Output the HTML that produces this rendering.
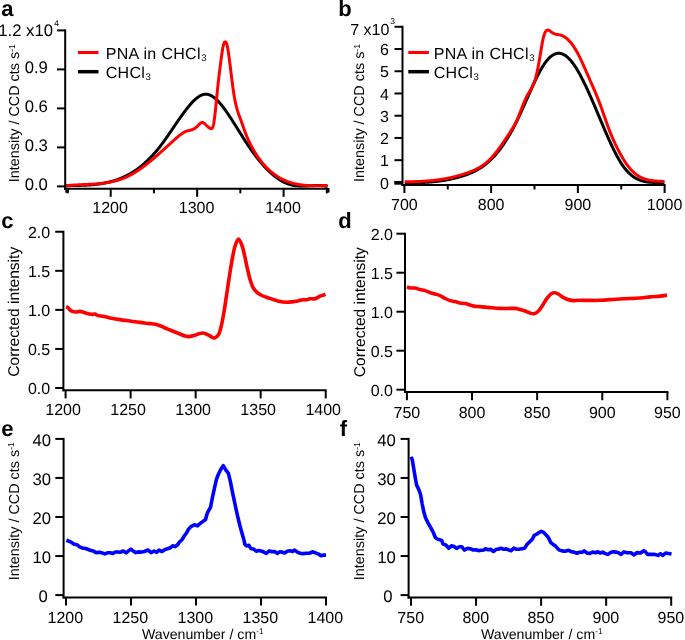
<!DOCTYPE html>
<html><head><meta charset="utf-8"><title>Spectra figure</title>
<style>
html,body{margin:0;padding:0;background:#fff;width:685px;height:640px;overflow:hidden}
svg{display:block;will-change:transform}
text{font-family:"Liberation Sans", sans-serif;fill:#000;text-rendering:geometricPrecision}
</style></head>
<body>
<svg width="685" height="640" viewBox="0 0 685 640">
<rect width="685" height="640" fill="#fff"/>
<g>
<text x="1.3" y="15.8" font-size="22" text-anchor="start" font-weight="bold" >a</text>
<line x1="65.2" y1="29.400000000000006" x2="65.2" y2="189.8" stroke="#000" stroke-width="2"/>
<line x1="57" y1="186.4" x2="65.2" y2="186.4" stroke="#000" stroke-width="2"/>
<text x="47.9" y="190.3" font-size="16.7" text-anchor="end" font-weight="normal" >0.0</text>
<line x1="57" y1="147.4" x2="65.2" y2="147.4" stroke="#000" stroke-width="2"/>
<text x="47.9" y="151.3" font-size="16.7" text-anchor="end" font-weight="normal" >0.3</text>
<line x1="57" y1="108.4" x2="65.2" y2="108.4" stroke="#000" stroke-width="2"/>
<text x="47.9" y="112.3" font-size="16.7" text-anchor="end" font-weight="normal" >0.6</text>
<line x1="57" y1="69.4" x2="65.2" y2="69.4" stroke="#000" stroke-width="2"/>
<text x="47.9" y="73.3" font-size="16.7" text-anchor="end" font-weight="normal" >0.9</text>
<line x1="57" y1="30.400000000000006" x2="65.2" y2="30.400000000000006" stroke="#000" stroke-width="2"/>
<text x="53.0" y="36.00000000000001" font-size="16.7" text-anchor="end" font-weight="normal" >1.2 x10</text>
<text x="54.2" y="26.0" font-size="8.5" text-anchor="start" font-weight="normal" >4</text>
<line x1="64.2" y1="188.8" x2="327.825" y2="188.8" stroke="#000" stroke-width="2"/>
<line x1="110.7" y1="188.8" x2="110.7" y2="196.8" stroke="#000" stroke-width="2"/>
<text x="110.1" y="213.2" font-size="16" text-anchor="middle" font-weight="normal" >1200</text>
<line x1="197.15" y1="188.8" x2="197.15" y2="196.8" stroke="#000" stroke-width="2"/>
<text x="196.55" y="213.2" font-size="16" text-anchor="middle" font-weight="normal" >1300</text>
<line x1="283.6" y1="188.8" x2="283.6" y2="196.8" stroke="#000" stroke-width="2"/>
<text x="283.0" y="213.2" font-size="16" text-anchor="middle" font-weight="normal" >1400</text>
<line x1="67.475" y1="188.8" x2="67.475" y2="193.3" stroke="#000" stroke-width="2"/>
<line x1="153.925" y1="188.8" x2="153.925" y2="193.3" stroke="#000" stroke-width="2"/>
<line x1="240.375" y1="188.8" x2="240.375" y2="193.3" stroke="#000" stroke-width="2"/>
<line x1="326.825" y1="188.8" x2="326.825" y2="193.3" stroke="#000" stroke-width="2"/>
<path d="M66.00,185.72 L66.25,185.72 L66.50,185.71 L66.75,185.70 L67.00,185.70 L67.25,185.69 L67.50,185.69 L67.75,185.68 L68.00,185.68 L68.25,185.67 L68.50,185.66 L68.75,185.66 L69.00,185.65 L69.25,185.65 L69.50,185.64 L69.75,185.64 L70.00,185.63 L70.25,185.63 L70.50,185.62 L70.75,185.62 L71.00,185.61 L71.25,185.61 L71.50,185.60 L71.75,185.60 L72.00,185.59 L72.25,185.59 L72.50,185.58 L72.75,185.58 L73.00,185.57 L73.25,185.57 L73.50,185.56 L73.75,185.56 L74.00,185.55 L74.25,185.55 L74.50,185.54 L74.75,185.54 L75.00,185.53 L75.25,185.53 L75.50,185.52 L75.75,185.52 L76.00,185.51 L76.25,185.51 L76.50,185.50 L76.75,185.50 L77.00,185.49 L77.25,185.48 L77.50,185.48 L77.75,185.47 L78.00,185.47 L78.25,185.46 L78.50,185.45 L78.75,185.45 L79.00,185.44 L79.25,185.43 L79.50,185.42 L79.75,185.42 L80.00,185.41 L80.25,185.40 L80.50,185.39 L80.75,185.39 L81.00,185.38 L81.25,185.37 L81.50,185.36 L81.75,185.35 L82.00,185.34 L82.25,185.34 L82.50,185.33 L82.75,185.32 L83.00,185.31 L83.25,185.30 L83.50,185.29 L83.75,185.28 L84.00,185.27 L84.25,185.25 L84.50,185.24 L84.75,185.23 L85.00,185.22 L85.25,185.21 L85.50,185.20 L85.75,185.18 L86.00,185.17 L86.25,185.16 L86.50,185.14 L86.75,185.13 L87.00,185.12 L87.25,185.10 L87.50,185.09 L87.75,185.07 L88.00,185.06 L88.25,185.04 L88.50,185.03 L88.75,185.01 L89.00,184.99 L89.25,184.98 L89.50,184.96 L89.75,184.94 L90.00,184.92 L90.25,184.91 L90.50,184.89 L90.75,184.87 L91.00,184.85 L91.25,184.83 L91.50,184.81 L91.75,184.79 L92.00,184.77 L92.25,184.74 L92.50,184.72 L92.75,184.70 L93.00,184.68 L93.25,184.65 L93.50,184.63 L93.75,184.61 L94.00,184.58 L94.25,184.56 L94.50,184.53 L94.75,184.51 L95.00,184.48 L95.25,184.45 L95.50,184.42 L95.75,184.40 L96.00,184.37 L96.25,184.34 L96.50,184.31 L96.75,184.28 L97.00,184.25 L97.25,184.22 L97.50,184.19 L97.75,184.16 L98.00,184.12 L98.25,184.09 L98.50,184.06 L98.75,184.02 L99.00,183.99 L99.25,183.95 L99.50,183.92 L99.75,183.88 L100.00,183.85 L100.25,183.81 L100.50,183.77 L100.75,183.73 L101.00,183.69 L101.25,183.65 L101.50,183.61 L101.75,183.57 L102.00,183.53 L102.25,183.49 L102.50,183.45 L102.75,183.40 L103.00,183.36 L103.25,183.31 L103.50,183.27 L103.75,183.22 L104.00,183.18 L104.25,183.13 L104.50,183.08 L104.75,183.03 L105.00,182.98 L105.25,182.93 L105.50,182.88 L105.75,182.83 L106.00,182.78 L106.25,182.73 L106.50,182.67 L106.75,182.62 L107.00,182.56 L107.25,182.51 L107.50,182.45 L107.75,182.39 L108.00,182.34 L108.25,182.28 L108.50,182.22 L108.75,182.16 L109.00,182.10 L109.25,182.04 L109.50,181.98 L109.75,181.91 L110.00,181.85 L110.25,181.78 L110.50,181.72 L110.75,181.65 L111.00,181.59 L111.25,181.52 L111.50,181.45 L111.75,181.38 L112.00,181.31 L112.25,181.24 L112.50,181.17 L112.75,181.09 L113.00,181.02 L113.25,180.95 L113.50,180.87 L113.75,180.80 L114.00,180.72 L114.25,180.64 L114.50,180.56 L114.75,180.48 L115.00,180.40 L115.25,180.32 L115.50,180.24 L115.75,180.16 L116.00,180.07 L116.25,179.99 L116.50,179.90 L116.75,179.82 L117.00,179.73 L117.25,179.64 L117.50,179.55 L117.75,179.46 L118.00,179.37 L118.25,179.28 L118.50,179.18 L118.75,179.09 L119.00,178.99 L119.25,178.90 L119.50,178.80 L119.75,178.70 L120.00,178.60 L120.25,178.50 L120.50,178.40 L120.75,178.30 L121.00,178.20 L121.25,178.09 L121.50,177.99 L121.75,177.88 L122.00,177.78 L122.25,177.67 L122.50,177.56 L122.75,177.45 L123.00,177.34 L123.25,177.23 L123.50,177.11 L123.75,177.00 L124.00,176.88 L124.25,176.77 L124.50,176.65 L124.75,176.53 L125.00,176.41 L125.25,176.29 L125.50,176.17 L125.75,176.05 L126.00,175.92 L126.25,175.80 L126.50,175.67 L126.75,175.54 L127.00,175.41 L127.25,175.29 L127.50,175.15 L127.75,175.02 L128.00,174.89 L128.25,174.76 L128.50,174.62 L128.75,174.48 L129.00,174.35 L129.25,174.21 L129.50,174.07 L129.75,173.93 L130.00,173.78 L130.25,173.64 L130.50,173.50 L130.75,173.35 L131.00,173.20 L131.25,173.05 L131.50,172.90 L131.75,172.75 L132.00,172.60 L132.25,172.45 L132.50,172.29 L132.75,172.14 L133.00,171.98 L133.25,171.82 L133.50,171.66 L133.75,171.50 L134.00,171.34 L134.25,171.18 L134.50,171.01 L134.75,170.85 L135.00,170.68 L135.25,170.51 L135.50,170.34 L135.75,170.17 L136.00,170.00 L136.25,169.83 L136.50,169.65 L136.75,169.47 L137.00,169.30 L137.25,169.12 L137.50,168.94 L137.75,168.76 L138.00,168.57 L138.25,168.39 L138.50,168.20 L138.75,168.02 L139.00,167.83 L139.25,167.64 L139.50,167.45 L139.75,167.25 L140.00,167.06 L140.25,166.86 L140.50,166.67 L140.75,166.47 L141.00,166.27 L141.25,166.07 L141.50,165.87 L141.75,165.66 L142.00,165.46 L142.25,165.25 L142.50,165.04 L142.75,164.83 L143.00,164.62 L143.25,164.41 L143.50,164.20 L143.75,163.98 L144.00,163.76 L144.25,163.55 L144.50,163.33 L144.75,163.10 L145.00,162.88 L145.25,162.66 L145.50,162.43 L145.75,162.20 L146.00,161.98 L146.25,161.75 L146.50,161.51 L146.75,161.28 L147.00,161.05 L147.25,160.81 L147.50,160.57 L147.75,160.33 L148.00,160.09 L148.25,159.85 L148.50,159.60 L148.75,159.36 L149.00,159.11 L149.25,158.86 L149.50,158.61 L149.75,158.36 L150.00,158.10 L150.25,157.85 L150.50,157.59 L150.75,157.33 L151.00,157.07 L151.25,156.81 L151.50,156.55 L151.75,156.28 L152.00,156.02 L152.25,155.75 L152.50,155.48 L152.75,155.21 L153.00,154.93 L153.25,154.66 L153.50,154.38 L153.75,154.10 L154.00,153.82 L154.25,153.54 L154.50,153.26 L154.75,152.97 L155.00,152.69 L155.25,152.40 L155.50,152.11 L155.75,151.82 L156.00,151.52 L156.25,151.23 L156.50,150.93 L156.75,150.63 L157.00,150.33 L157.25,150.03 L157.50,149.73 L157.75,149.42 L158.00,149.11 L158.25,148.80 L158.50,148.49 L158.75,148.18 L159.00,147.87 L159.25,147.55 L159.50,147.23 L159.75,146.91 L160.00,146.59 L160.25,146.27 L160.50,145.94 L160.75,145.61 L161.00,145.29 L161.25,144.95 L161.50,144.62 L161.75,144.29 L162.00,143.95 L162.25,143.62 L162.50,143.28 L162.75,142.94 L163.00,142.60 L163.25,142.26 L163.50,141.91 L163.75,141.57 L164.00,141.22 L164.25,140.87 L164.50,140.52 L164.75,140.17 L165.00,139.82 L165.25,139.47 L165.50,139.12 L165.75,138.76 L166.00,138.41 L166.25,138.05 L166.50,137.69 L166.75,137.33 L167.00,136.98 L167.25,136.62 L167.50,136.25 L167.75,135.89 L168.00,135.53 L168.25,135.17 L168.50,134.80 L168.75,134.44 L169.00,134.07 L169.25,133.71 L169.50,133.34 L169.75,132.98 L170.00,132.61 L170.25,132.24 L170.50,131.87 L170.75,131.51 L171.00,131.14 L171.25,130.77 L171.50,130.40 L171.75,130.03 L172.00,129.66 L172.25,129.29 L172.50,128.92 L172.75,128.55 L173.00,128.18 L173.25,127.81 L173.50,127.44 L173.75,127.07 L174.00,126.70 L174.25,126.34 L174.50,125.97 L174.75,125.60 L175.00,125.23 L175.25,124.86 L175.50,124.49 L175.75,124.12 L176.00,123.76 L176.25,123.39 L176.50,123.02 L176.75,122.66 L177.00,122.29 L177.25,121.92 L177.50,121.56 L177.75,121.20 L178.00,120.83 L178.25,120.47 L178.50,120.11 L178.75,119.75 L179.00,119.39 L179.25,119.03 L179.50,118.67 L179.75,118.31 L180.00,117.95 L180.25,117.60 L180.50,117.24 L180.75,116.89 L181.00,116.54 L181.25,116.18 L181.50,115.83 L181.75,115.48 L182.00,115.14 L182.25,114.79 L182.50,114.44 L182.75,114.10 L183.00,113.75 L183.25,113.41 L183.50,113.07 L183.75,112.73 L184.00,112.40 L184.25,112.06 L184.50,111.73 L184.75,111.39 L185.00,111.06 L185.25,110.73 L185.50,110.40 L185.75,110.08 L186.00,109.75 L186.25,109.43 L186.50,109.11 L186.75,108.79 L187.00,108.48 L187.25,108.16 L187.50,107.85 L187.75,107.54 L188.00,107.23 L188.25,106.92 L188.50,106.61 L188.75,106.31 L189.00,106.01 L189.25,105.71 L189.50,105.42 L189.75,105.12 L190.00,104.83 L190.25,104.54 L190.50,104.26 L190.75,103.97 L191.00,103.69 L191.25,103.41 L191.50,103.14 L191.75,102.86 L192.00,102.59 L192.25,102.32 L192.50,102.06 L192.75,101.80 L193.00,101.54 L193.25,101.29 L193.50,101.04 L193.75,100.79 L194.00,100.54 L194.25,100.30 L194.50,100.06 L194.75,99.83 L195.00,99.60 L195.25,99.37 L195.50,99.15 L195.75,98.93 L196.00,98.72 L196.25,98.51 L196.50,98.30 L196.75,98.10 L197.00,97.90 L197.25,97.71 L197.50,97.52 L197.75,97.33 L198.00,97.15 L198.25,96.98 L198.50,96.81 L198.75,96.64 L199.00,96.48 L199.25,96.33 L199.50,96.17 L199.75,96.03 L200.00,95.89 L200.25,95.75 L200.50,95.62 L200.75,95.49 L201.00,95.37 L201.25,95.26 L201.50,95.15 L201.75,95.05 L202.00,94.95 L202.25,94.86 L202.50,94.77 L202.75,94.69 L203.00,94.61 L203.25,94.55 L203.50,94.48 L203.75,94.43 L204.00,94.38 L204.25,94.33 L204.50,94.29 L204.75,94.26 L205.00,94.24 L205.25,94.22 L205.50,94.21 L205.75,94.20 L206.00,94.20 L206.25,94.21 L206.50,94.23 L206.75,94.25 L207.00,94.28 L207.25,94.31 L207.50,94.35 L207.75,94.40 L208.00,94.45 L208.25,94.51 L208.50,94.58 L208.75,94.65 L209.00,94.73 L209.25,94.81 L209.50,94.90 L209.75,95.00 L210.00,95.10 L210.25,95.21 L210.50,95.32 L210.75,95.44 L211.00,95.57 L211.25,95.70 L211.50,95.83 L211.75,95.97 L212.00,96.12 L212.25,96.27 L212.50,96.43 L212.75,96.59 L213.00,96.76 L213.25,96.93 L213.50,97.11 L213.75,97.29 L214.00,97.48 L214.25,97.67 L214.50,97.87 L214.75,98.07 L215.00,98.27 L215.25,98.49 L215.50,98.70 L215.75,98.92 L216.00,99.15 L216.25,99.37 L216.50,99.61 L216.75,99.84 L217.00,100.09 L217.25,100.33 L217.50,100.58 L217.75,100.83 L218.00,101.09 L218.25,101.35 L218.50,101.62 L218.75,101.89 L219.00,102.16 L219.25,102.44 L219.50,102.72 L219.75,103.00 L220.00,103.29 L220.25,103.58 L220.50,103.87 L220.75,104.17 L221.00,104.47 L221.25,104.78 L221.50,105.08 L221.75,105.39 L222.00,105.71 L222.25,106.02 L222.50,106.34 L222.75,106.66 L223.00,106.99 L223.25,107.32 L223.50,107.65 L223.75,107.98 L224.00,108.31 L224.25,108.65 L224.50,108.99 L224.75,109.33 L225.00,109.68 L225.25,110.03 L225.50,110.38 L225.75,110.73 L226.00,111.08 L226.25,111.44 L226.50,111.79 L226.75,112.15 L227.00,112.52 L227.25,112.88 L227.50,113.24 L227.75,113.61 L228.00,113.98 L228.25,114.35 L228.50,114.72 L228.75,115.09 L229.00,115.47 L229.25,115.84 L229.50,116.22 L229.75,116.60 L230.00,116.98 L230.25,117.36 L230.50,117.74 L230.75,118.12 L231.00,118.51 L231.25,118.89 L231.50,119.27 L231.75,119.66 L232.00,120.05 L232.25,120.44 L232.50,120.83 L232.75,121.22 L233.00,121.61 L233.25,122.00 L233.50,122.39 L233.75,122.78 L234.00,123.17 L234.25,123.57 L234.50,123.96 L234.75,124.36 L235.00,124.75 L235.25,125.15 L235.50,125.54 L235.75,125.94 L236.00,126.34 L236.25,126.73 L236.50,127.13 L236.75,127.53 L237.00,127.93 L237.25,128.32 L237.50,128.72 L237.75,129.12 L238.00,129.52 L238.25,129.92 L238.50,130.32 L238.75,130.72 L239.00,131.11 L239.25,131.51 L239.50,131.91 L239.75,132.31 L240.00,132.71 L240.25,133.11 L240.50,133.50 L240.75,133.90 L241.00,134.30 L241.25,134.70 L241.50,135.09 L241.75,135.49 L242.00,135.88 L242.25,136.28 L242.50,136.67 L242.75,137.07 L243.00,137.46 L243.25,137.85 L243.50,138.25 L243.75,138.64 L244.00,139.03 L244.25,139.42 L244.50,139.81 L244.75,140.20 L245.00,140.59 L245.25,140.97 L245.50,141.36 L245.75,141.75 L246.00,142.13 L246.25,142.51 L246.50,142.90 L246.75,143.28 L247.00,143.66 L247.25,144.04 L247.50,144.42 L247.75,144.79 L248.00,145.17 L248.25,145.54 L248.50,145.92 L248.75,146.29 L249.00,146.66 L249.25,147.03 L249.50,147.40 L249.75,147.76 L250.00,148.13 L250.25,148.49 L250.50,148.86 L250.75,149.22 L251.00,149.57 L251.25,149.93 L251.50,150.29 L251.75,150.64 L252.00,151.00 L252.25,151.35 L252.50,151.70 L252.75,152.05 L253.00,152.39 L253.25,152.74 L253.50,153.08 L253.75,153.43 L254.00,153.77 L254.25,154.11 L254.50,154.44 L254.75,154.78 L255.00,155.11 L255.25,155.45 L255.50,155.78 L255.75,156.11 L256.00,156.44 L256.25,156.76 L256.50,157.09 L256.75,157.41 L257.00,157.73 L257.25,158.05 L257.50,158.37 L257.75,158.69 L258.00,159.00 L258.25,159.32 L258.50,159.63 L258.75,159.94 L259.00,160.25 L259.25,160.56 L259.50,160.86 L259.75,161.17 L260.00,161.47 L260.25,161.77 L260.50,162.07 L260.75,162.37 L261.00,162.66 L261.25,162.95 L261.50,163.25 L261.75,163.54 L262.00,163.83 L262.25,164.11 L262.50,164.40 L262.75,164.68 L263.00,164.97 L263.25,165.25 L263.50,165.52 L263.75,165.80 L264.00,166.08 L264.25,166.35 L264.50,166.62 L264.75,166.89 L265.00,167.16 L265.25,167.43 L265.50,167.69 L265.75,167.96 L266.00,168.22 L266.25,168.48 L266.50,168.74 L266.75,168.99 L267.00,169.25 L267.25,169.50 L267.50,169.75 L267.75,170.00 L268.00,170.25 L268.25,170.49 L268.50,170.73 L268.75,170.98 L269.00,171.22 L269.25,171.45 L269.50,171.69 L269.75,171.93 L270.00,172.16 L270.25,172.39 L270.50,172.62 L270.75,172.85 L271.00,173.07 L271.25,173.30 L271.50,173.52 L271.75,173.74 L272.00,173.96 L272.25,174.17 L272.50,174.39 L272.75,174.60 L273.00,174.81 L273.25,175.02 L273.50,175.23 L273.75,175.43 L274.00,175.63 L274.25,175.84 L274.50,176.04 L274.75,176.23 L275.00,176.43 L275.25,176.62 L275.50,176.81 L275.75,177.00 L276.00,177.19 L276.25,177.38 L276.50,177.56 L276.75,177.74 L277.00,177.93 L277.25,178.10 L277.50,178.28 L277.75,178.45 L278.00,178.63 L278.25,178.80 L278.50,178.97 L278.75,179.13 L279.00,179.30 L279.25,179.46 L279.50,179.62 L279.75,179.78 L280.00,179.94 L280.25,180.09 L280.50,180.24 L280.75,180.40 L281.00,180.54 L281.25,180.69 L281.50,180.84 L281.75,180.98 L282.00,181.12 L282.25,181.26 L282.50,181.40 L282.75,181.53 L283.00,181.66 L283.25,181.79 L283.50,181.92 L283.75,182.05 L284.00,182.17 L284.25,182.30 L284.50,182.42 L284.75,182.54 L285.00,182.65 L285.25,182.77 L285.50,182.88 L285.75,182.99 L286.00,183.10 L286.25,183.20 L286.50,183.31 L286.75,183.41 L287.00,183.51 L287.25,183.60 L287.50,183.70 L287.75,183.79 L288.00,183.88 L288.25,183.97 L288.50,184.06 L288.75,184.15 L289.00,184.23 L289.25,184.31 L289.50,184.39 L289.75,184.46 L290.00,184.54 L290.25,184.61 L290.50,184.68 L290.75,184.75 L291.00,184.81 L291.25,184.88 L291.50,184.94 L291.75,185.00 L292.00,185.06 L292.25,185.11 L292.50,185.17 L292.75,185.22 L293.00,185.27 L293.25,185.32 L293.50,185.36 L293.75,185.41 L294.00,185.45 L294.25,185.49 L294.50,185.53 L294.75,185.57 L295.00,185.61 L295.25,185.64 L295.50,185.67 L295.75,185.71 L296.00,185.74 L296.25,185.76 L296.50,185.79 L296.75,185.82 L297.00,185.84 L297.25,185.86 L297.50,185.89 L297.75,185.91 L298.00,185.92 L298.25,185.94 L298.50,185.96 L298.75,185.97 L299.00,185.99 L299.25,186.00 L299.50,186.01 L299.75,186.02 L300.00,186.03 L300.25,186.04 L300.50,186.04 L300.75,186.05 L301.00,186.06 L301.25,186.06 L301.50,186.06 L301.75,186.07 L302.00,186.07 L302.25,186.07 L302.50,186.07 L302.75,186.07 L303.00,186.06 L303.25,186.06 L303.50,186.06 L303.75,186.05 L304.00,186.05 L304.25,186.04 L304.50,186.04 L304.75,186.03 L305.00,186.02 L305.25,186.02 L305.50,186.01 L305.75,186.00 L306.00,185.99 L306.25,185.98 L306.50,185.97 L306.75,185.96 L307.00,185.95 L307.25,185.94 L307.50,185.93 L307.75,185.91 L308.00,185.90 L308.25,185.89 L308.50,185.88 L308.75,185.87 L309.00,185.85 L309.25,185.84 L309.50,185.83 L309.75,185.81 L310.00,185.80 L310.25,185.79 L310.50,185.78 L310.75,185.76 L311.00,185.75 L311.25,185.74 L311.50,185.73 L311.75,185.71 L312.00,185.70 L312.25,185.69 L312.50,185.68 L312.75,185.67 L313.00,185.65 L313.25,185.64 L313.50,185.63 L313.75,185.62 L314.00,185.61 L314.25,185.60 L314.50,185.60 L314.75,185.59 L315.00,185.58 L315.25,185.57 L315.50,185.57 L315.75,185.56 L316.00,185.55 L316.25,185.55 L316.50,185.55 L316.75,185.54 L317.00,185.54 L317.25,185.54 L317.50,185.54 L317.75,185.54 L318.00,185.54 L318.25,185.54 L318.50,185.54 L318.75,185.54 L319.00,185.55 L319.25,185.55 L319.50,185.56 L319.75,185.57 L320.00,185.57 L320.25,185.58 L320.50,185.59 L320.75,185.61 L321.00,185.62 L321.25,185.63 L321.50,185.65 L321.75,185.66 L322.00,185.68 L322.25,185.70 L322.50,185.72 L322.75,185.74 L323.00,185.76 L323.25,185.79 L323.50,185.81 L323.75,185.84 L324.00,185.87 L324.25,185.90 L324.50,185.93 L324.75,185.96 L325.00,186.00 L325.25,186.04 L325.50,186.07 L325.75,186.11 L326.00,186.15 L326.25,186.20 L326.50,186.24 L326.75,186.29 L327.00,186.34 L327.25,186.39 L327.50,186.44" fill="none" stroke="#000" stroke-width="3" stroke-linejoin="round" stroke-linecap="butt"/>
<path d="M66.00,185.77 L66.25,185.74 L66.50,185.71 L66.75,185.69 L67.00,185.66 L67.25,185.63 L67.50,185.61 L67.75,185.58 L68.00,185.56 L68.25,185.53 L68.50,185.51 L68.75,185.48 L69.00,185.46 L69.25,185.44 L69.50,185.41 L69.75,185.39 L70.00,185.37 L70.25,185.35 L70.50,185.33 L70.75,185.31 L71.00,185.29 L71.25,185.27 L71.50,185.25 L71.75,185.23 L72.00,185.21 L72.25,185.19 L72.50,185.17 L72.75,185.16 L73.00,185.14 L73.25,185.12 L73.50,185.10 L73.75,185.09 L74.00,185.07 L74.25,185.06 L74.50,185.04 L74.75,185.02 L75.00,185.01 L75.25,184.99 L75.50,184.98 L75.75,184.96 L76.00,184.95 L76.25,184.94 L76.50,184.92 L76.75,184.91 L77.00,184.89 L77.25,184.88 L77.50,184.87 L77.75,184.86 L78.00,184.84 L78.25,184.83 L78.50,184.82 L78.75,184.81 L79.00,184.79 L79.25,184.78 L79.50,184.77 L79.75,184.76 L80.00,184.75 L80.25,184.73 L80.50,184.72 L80.75,184.71 L81.00,184.70 L81.25,184.69 L81.50,184.68 L81.75,184.67 L82.00,184.66 L82.25,184.64 L82.50,184.63 L82.75,184.62 L83.00,184.61 L83.25,184.60 L83.50,184.59 L83.75,184.58 L84.00,184.57 L84.25,184.56 L84.50,184.55 L84.75,184.54 L85.00,184.52 L85.25,184.51 L85.50,184.50 L85.75,184.49 L86.00,184.48 L86.25,184.47 L86.50,184.46 L86.75,184.45 L87.00,184.44 L87.25,184.42 L87.50,184.41 L87.75,184.40 L88.00,184.39 L88.25,184.38 L88.50,184.36 L88.75,184.35 L89.00,184.34 L89.25,184.33 L89.50,184.32 L89.75,184.30 L90.00,184.29 L90.25,184.28 L90.50,184.26 L90.75,184.25 L91.00,184.24 L91.25,184.22 L91.50,184.21 L91.75,184.19 L92.00,184.18 L92.25,184.17 L92.50,184.15 L92.75,184.13 L93.00,184.12 L93.25,184.10 L93.50,184.09 L93.75,184.07 L94.00,184.06 L94.25,184.04 L94.50,184.02 L94.75,184.00 L95.00,183.99 L95.25,183.97 L95.50,183.95 L95.75,183.93 L96.00,183.91 L96.25,183.89 L96.50,183.87 L96.75,183.85 L97.00,183.83 L97.25,183.81 L97.50,183.79 L97.75,183.77 L98.00,183.75 L98.25,183.73 L98.50,183.70 L98.75,183.68 L99.00,183.66 L99.25,183.63 L99.50,183.61 L99.75,183.58 L100.00,183.56 L100.25,183.53 L100.50,183.51 L100.75,183.48 L101.00,183.45 L101.25,183.42 L101.50,183.40 L101.75,183.37 L102.00,183.34 L102.25,183.31 L102.50,183.28 L102.75,183.25 L103.00,183.22 L103.25,183.19 L103.50,183.15 L103.75,183.12 L104.00,183.09 L104.25,183.05 L104.50,183.02 L104.75,182.98 L105.00,182.95 L105.25,182.91 L105.50,182.88 L105.75,182.84 L106.00,182.80 L106.25,182.76 L106.50,182.72 L106.75,182.68 L107.00,182.64 L107.25,182.60 L107.50,182.56 L107.75,182.52 L108.00,182.47 L108.25,182.43 L108.50,182.38 L108.75,182.34 L109.00,182.29 L109.25,182.25 L109.50,182.20 L109.75,182.15 L110.00,182.10 L110.25,182.05 L110.50,182.00 L110.75,181.95 L111.00,181.90 L111.25,181.85 L111.50,181.79 L111.75,181.74 L112.00,181.69 L112.25,181.63 L112.50,181.57 L112.75,181.52 L113.00,181.46 L113.25,181.40 L113.50,181.34 L113.75,181.28 L114.00,181.22 L114.25,181.16 L114.50,181.09 L114.75,181.03 L115.00,180.97 L115.25,180.90 L115.50,180.83 L115.75,180.77 L116.00,180.70 L116.25,180.63 L116.50,180.56 L116.75,180.49 L117.00,180.42 L117.25,180.34 L117.50,180.27 L117.75,180.19 L118.00,180.12 L118.25,180.04 L118.50,179.97 L118.75,179.89 L119.00,179.81 L119.25,179.73 L119.50,179.65 L119.75,179.56 L120.00,179.48 L120.25,179.40 L120.50,179.31 L120.75,179.22 L121.00,179.14 L121.25,179.05 L121.50,178.96 L121.75,178.87 L122.00,178.78 L122.25,178.68 L122.50,178.59 L122.75,178.49 L123.00,178.40 L123.25,178.30 L123.50,178.20 L123.75,178.10 L124.00,178.00 L124.25,177.90 L124.50,177.80 L124.75,177.70 L125.00,177.59 L125.25,177.48 L125.50,177.38 L125.75,177.27 L126.00,177.16 L126.25,177.05 L126.50,176.94 L126.75,176.82 L127.00,176.71 L127.25,176.59 L127.50,176.48 L127.75,176.36 L128.00,176.24 L128.25,176.12 L128.50,176.00 L128.75,175.87 L129.00,175.75 L129.25,175.63 L129.50,175.50 L129.75,175.37 L130.00,175.24 L130.25,175.11 L130.50,174.98 L130.75,174.85 L131.00,174.71 L131.25,174.58 L131.50,174.44 L131.75,174.30 L132.00,174.16 L132.25,174.02 L132.50,173.88 L132.75,173.74 L133.00,173.59 L133.25,173.45 L133.50,173.30 L133.75,173.15 L134.00,173.00 L134.25,172.85 L134.50,172.70 L134.75,172.55 L135.00,172.40 L135.25,172.24 L135.50,172.09 L135.75,171.93 L136.00,171.77 L136.25,171.61 L136.50,171.45 L136.75,171.29 L137.00,171.13 L137.25,170.97 L137.50,170.80 L137.75,170.64 L138.00,170.47 L138.25,170.31 L138.50,170.14 L138.75,169.97 L139.00,169.80 L139.25,169.63 L139.50,169.45 L139.75,169.28 L140.00,169.11 L140.25,168.93 L140.50,168.76 L140.75,168.58 L141.00,168.40 L141.25,168.22 L141.50,168.04 L141.75,167.86 L142.00,167.68 L142.25,167.50 L142.50,167.32 L142.75,167.13 L143.00,166.95 L143.25,166.76 L143.50,166.57 L143.75,166.39 L144.00,166.20 L144.25,166.01 L144.50,165.82 L144.75,165.63 L145.00,165.44 L145.25,165.25 L145.50,165.05 L145.75,164.86 L146.00,164.67 L146.25,164.47 L146.50,164.27 L146.75,164.08 L147.00,163.88 L147.25,163.68 L147.50,163.48 L147.75,163.28 L148.00,163.08 L148.25,162.88 L148.50,162.68 L148.75,162.48 L149.00,162.28 L149.25,162.07 L149.50,161.87 L149.75,161.66 L150.00,161.46 L150.25,161.25 L150.50,161.05 L150.75,160.84 L151.00,160.63 L151.25,160.42 L151.50,160.21 L151.75,160.00 L152.00,159.79 L152.25,159.58 L152.50,159.37 L152.75,159.16 L153.00,158.95 L153.25,158.74 L153.50,158.52 L153.75,158.31 L154.00,158.10 L154.25,157.88 L154.50,157.67 L154.75,157.45 L155.00,157.24 L155.25,157.02 L155.50,156.80 L155.75,156.59 L156.00,156.37 L156.25,156.15 L156.50,155.93 L156.75,155.71 L157.00,155.49 L157.25,155.28 L157.50,155.06 L157.75,154.84 L158.00,154.61 L158.25,154.39 L158.50,154.17 L158.75,153.95 L159.00,153.73 L159.25,153.51 L159.50,153.29 L159.75,153.06 L160.00,152.84 L160.25,152.62 L160.50,152.39 L160.75,152.17 L161.00,151.95 L161.25,151.72 L161.50,151.50 L161.75,151.27 L162.00,151.05 L162.25,150.82 L162.50,150.60 L162.75,150.37 L163.00,150.15 L163.25,149.92 L163.50,149.69 L163.75,149.47 L164.00,149.24 L164.25,149.02 L164.50,148.79 L164.75,148.56 L165.00,148.34 L165.25,148.11 L165.50,147.88 L165.75,147.66 L166.00,147.43 L166.25,147.20 L166.50,146.98 L166.75,146.75 L167.00,146.52 L167.25,146.29 L167.50,146.07 L167.75,145.84 L168.00,145.61 L168.25,145.39 L168.50,145.16 L168.75,144.93 L169.00,144.70 L169.25,144.48 L169.50,144.25 L169.75,144.02 L170.00,143.80 L170.25,143.57 L170.50,143.34 L170.75,143.12 L171.00,142.89 L171.25,142.66 L171.50,142.44 L171.75,142.21 L172.00,141.99 L172.25,141.76 L172.50,141.53 L172.75,141.31 L173.00,141.08 L173.25,140.86 L173.50,140.63 L173.75,140.41 L174.00,140.18 L174.25,139.96 L174.50,139.73 L174.75,139.51 L175.00,139.29 L175.25,139.06 L175.50,138.84 L175.75,138.62 L176.00,138.40 L176.25,138.17 L176.50,137.95 L176.75,137.73 L177.00,137.52 L177.25,137.30 L177.50,137.08 L177.75,136.87 L178.00,136.66 L178.25,136.44 L178.50,136.23 L178.75,136.03 L179.00,135.82 L179.25,135.62 L179.50,135.42 L179.75,135.22 L180.00,135.02 L180.25,134.83 L180.50,134.64 L180.75,134.45 L181.00,134.27 L181.25,134.08 L181.50,133.91 L181.75,133.73 L182.00,133.56 L182.25,133.39 L182.50,133.23 L182.75,133.06 L183.00,132.91 L183.25,132.76 L183.50,132.61 L183.75,132.46 L184.00,132.32 L184.25,132.19 L184.50,132.06 L184.75,131.93 L185.00,131.81 L185.25,131.69 L185.50,131.58 L185.75,131.48 L186.00,131.38 L186.25,131.28 L186.50,131.19 L186.75,131.11 L187.00,131.03 L187.25,130.96 L187.50,130.89 L187.75,130.82 L188.00,130.75 L188.25,130.69 L188.50,130.63 L188.75,130.57 L189.00,130.51 L189.25,130.45 L189.50,130.40 L189.75,130.34 L190.00,130.28 L190.25,130.22 L190.50,130.15 L190.75,130.09 L191.00,130.02 L191.25,129.95 L191.50,129.87 L191.75,129.79 L192.00,129.70 L192.25,129.61 L192.50,129.52 L192.75,129.41 L193.00,129.31 L193.25,129.19 L193.50,129.07 L193.75,128.94 L194.00,128.80 L194.25,128.66 L194.50,128.51 L194.75,128.35 L195.00,128.18 L195.25,128.01 L195.50,127.83 L195.75,127.64 L196.00,127.45 L196.25,127.24 L196.50,127.03 L196.75,126.81 L197.00,126.58 L197.25,126.35 L197.50,126.10 L197.75,125.85 L198.00,125.59 L198.25,125.34 L198.50,125.08 L198.75,124.82 L199.00,124.57 L199.25,124.32 L199.50,124.08 L199.75,123.85 L200.00,123.63 L200.25,123.43 L200.50,123.23 L200.75,123.06 L201.00,122.90 L201.25,122.77 L201.50,122.66 L201.75,122.57 L202.00,122.51 L202.25,122.48 L202.50,122.48 L202.75,122.51 L203.00,122.58 L203.25,122.67 L203.50,122.80 L203.75,122.95 L204.00,123.12 L204.25,123.31 L204.50,123.52 L204.75,123.74 L205.00,123.98 L205.25,124.23 L205.50,124.48 L205.75,124.73 L206.00,124.99 L206.25,125.24 L206.50,125.50 L206.75,125.74 L207.00,125.97 L207.25,126.20 L207.50,126.42 L207.75,126.63 L208.00,126.84 L208.25,127.03 L208.50,127.22 L208.75,127.40 L209.00,127.57 L209.25,127.73 L209.50,127.89 L209.75,128.03 L210.00,128.17 L210.25,128.30 L210.50,128.43 L210.75,128.54 L211.00,128.63 L211.25,128.67 L211.50,128.66 L211.75,128.57 L212.00,128.40 L212.25,128.11 L212.50,127.70 L212.75,127.15 L213.00,126.44 L213.25,125.56 L213.50,124.48 L213.75,123.20 L214.00,121.72 L214.25,120.04 L214.50,118.21 L214.75,116.22 L215.00,114.10 L215.25,111.86 L215.50,109.53 L215.75,107.12 L216.00,104.65 L216.25,102.14 L216.50,99.60 L216.75,97.06 L217.00,94.53 L217.25,92.03 L217.50,89.57 L217.75,87.18 L218.00,84.84 L218.25,82.57 L218.50,80.34 L218.75,78.17 L219.00,76.03 L219.25,73.94 L219.50,71.88 L219.75,69.85 L220.00,67.85 L220.25,65.88 L220.50,63.94 L220.75,62.03 L221.00,60.15 L221.25,58.31 L221.50,56.51 L221.75,54.76 L222.00,53.05 L222.25,51.39 L222.50,49.81 L222.75,48.33 L223.00,46.96 L223.25,45.73 L223.50,44.67 L223.75,43.78 L224.00,43.09 L224.25,42.59 L224.50,42.25 L224.75,42.05 L225.00,41.96 L225.25,41.96 L225.50,42.03 L225.75,42.17 L226.00,42.41 L226.25,42.77 L226.50,43.27 L226.75,43.94 L227.00,44.78 L227.25,45.82 L227.50,47.02 L227.75,48.38 L228.00,49.86 L228.25,51.46 L228.50,53.16 L228.75,54.93 L229.00,56.76 L229.25,58.63 L229.50,60.54 L229.75,62.49 L230.00,64.47 L230.25,66.47 L230.50,68.48 L230.75,70.50 L231.00,72.52 L231.25,74.54 L231.50,76.55 L231.75,78.54 L232.00,80.51 L232.25,82.45 L232.50,84.36 L232.75,86.23 L233.00,88.06 L233.25,89.83 L233.50,91.55 L233.75,93.22 L234.00,94.83 L234.25,96.37 L234.50,97.85 L234.75,99.26 L235.00,100.60 L235.25,101.86 L235.50,103.05 L235.75,104.18 L236.00,105.25 L236.25,106.26 L236.50,107.22 L236.75,108.13 L237.00,109.01 L237.25,109.85 L237.50,110.66 L237.75,111.45 L238.00,112.21 L238.25,112.96 L238.50,113.70 L238.75,114.42 L239.00,115.13 L239.25,115.83 L239.50,116.52 L239.75,117.21 L240.00,117.89 L240.25,118.56 L240.50,119.24 L240.75,119.91 L241.00,120.59 L241.25,121.26 L241.50,121.95 L241.75,122.64 L242.00,123.33 L242.25,124.04 L242.50,124.74 L242.75,125.45 L243.00,126.17 L243.25,126.88 L243.50,127.60 L243.75,128.31 L244.00,129.02 L244.25,129.72 L244.50,130.42 L244.75,131.12 L245.00,131.80 L245.25,132.48 L245.50,133.14 L245.75,133.80 L246.00,134.44 L246.25,135.07 L246.50,135.69 L246.75,136.29 L247.00,136.89 L247.25,137.48 L247.50,138.05 L247.75,138.62 L248.00,139.18 L248.25,139.73 L248.50,140.28 L248.75,140.81 L249.00,141.34 L249.25,141.86 L249.50,142.38 L249.75,142.89 L250.00,143.39 L250.25,143.89 L250.50,144.39 L250.75,144.88 L251.00,145.36 L251.25,145.84 L251.50,146.32 L251.75,146.79 L252.00,147.25 L252.25,147.72 L252.50,148.17 L252.75,148.63 L253.00,149.07 L253.25,149.52 L253.50,149.96 L253.75,150.39 L254.00,150.82 L254.25,151.25 L254.50,151.67 L254.75,152.09 L255.00,152.50 L255.25,152.91 L255.50,153.31 L255.75,153.71 L256.00,154.11 L256.25,154.50 L256.50,154.89 L256.75,155.28 L257.00,155.66 L257.25,156.03 L257.50,156.41 L257.75,156.77 L258.00,157.14 L258.25,157.50 L258.50,157.86 L258.75,158.21 L259.00,158.56 L259.25,158.91 L259.50,159.25 L259.75,159.59 L260.00,159.92 L260.25,160.26 L260.50,160.59 L260.75,160.91 L261.00,161.23 L261.25,161.55 L261.50,161.86 L261.75,162.18 L262.00,162.48 L262.25,162.79 L262.50,163.09 L262.75,163.39 L263.00,163.69 L263.25,163.98 L263.50,164.27 L263.75,164.55 L264.00,164.84 L264.25,165.12 L264.50,165.39 L264.75,165.67 L265.00,165.94 L265.25,166.21 L265.50,166.47 L265.75,166.74 L266.00,167.00 L266.25,167.25 L266.50,167.51 L266.75,167.76 L267.00,168.01 L267.25,168.26 L267.50,168.50 L267.75,168.75 L268.00,168.99 L268.25,169.22 L268.50,169.46 L268.75,169.69 L269.00,169.92 L269.25,170.15 L269.50,170.37 L269.75,170.60 L270.00,170.82 L270.25,171.04 L270.50,171.25 L270.75,171.47 L271.00,171.68 L271.25,171.89 L271.50,172.10 L271.75,172.31 L272.00,172.51 L272.25,172.71 L272.50,172.91 L272.75,173.11 L273.00,173.31 L273.25,173.50 L273.50,173.69 L273.75,173.88 L274.00,174.07 L274.25,174.26 L274.50,174.44 L274.75,174.62 L275.00,174.80 L275.25,174.98 L275.50,175.16 L275.75,175.33 L276.00,175.50 L276.25,175.67 L276.50,175.84 L276.75,176.01 L277.00,176.17 L277.25,176.34 L277.50,176.50 L277.75,176.66 L278.00,176.82 L278.25,176.97 L278.50,177.13 L278.75,177.28 L279.00,177.43 L279.25,177.58 L279.50,177.72 L279.75,177.87 L280.00,178.01 L280.25,178.15 L280.50,178.29 L280.75,178.43 L281.00,178.57 L281.25,178.70 L281.50,178.83 L281.75,178.96 L282.00,179.09 L282.25,179.22 L282.50,179.35 L282.75,179.47 L283.00,179.60 L283.25,179.72 L283.50,179.84 L283.75,179.96 L284.00,180.07 L284.25,180.19 L284.50,180.30 L284.75,180.41 L285.00,180.52 L285.25,180.63 L285.50,180.74 L285.75,180.84 L286.00,180.95 L286.25,181.05 L286.50,181.15 L286.75,181.25 L287.00,181.35 L287.25,181.45 L287.50,181.54 L287.75,181.64 L288.00,181.73 L288.25,181.82 L288.50,181.91 L288.75,182.00 L289.00,182.09 L289.25,182.17 L289.50,182.26 L289.75,182.34 L290.00,182.42 L290.25,182.50 L290.50,182.58 L290.75,182.66 L291.00,182.74 L291.25,182.81 L291.50,182.89 L291.75,182.96 L292.00,183.03 L292.25,183.10 L292.50,183.17 L292.75,183.24 L293.00,183.30 L293.25,183.37 L293.50,183.43 L293.75,183.50 L294.00,183.56 L294.25,183.62 L294.50,183.68 L294.75,183.74 L295.00,183.79 L295.25,183.85 L295.50,183.91 L295.75,183.96 L296.00,184.01 L296.25,184.07 L296.50,184.12 L296.75,184.17 L297.00,184.21 L297.25,184.26 L297.50,184.31 L297.75,184.35 L298.00,184.40 L298.25,184.44 L298.50,184.49 L298.75,184.53 L299.00,184.57 L299.25,184.61 L299.50,184.65 L299.75,184.68 L300.00,184.72 L300.25,184.76 L300.50,184.79 L300.75,184.83 L301.00,184.86 L301.25,184.89 L301.50,184.93 L301.75,184.96 L302.00,184.99 L302.25,185.02 L302.50,185.04 L302.75,185.07 L303.00,185.10 L303.25,185.13 L303.50,185.15 L303.75,185.17 L304.00,185.20 L304.25,185.22 L304.50,185.24 L304.75,185.27 L305.00,185.29 L305.25,185.31 L305.50,185.33 L305.75,185.35 L306.00,185.36 L306.25,185.38 L306.50,185.40 L306.75,185.41 L307.00,185.43 L307.25,185.45 L307.50,185.46 L307.75,185.47 L308.00,185.49 L308.25,185.50 L308.50,185.51 L308.75,185.52 L309.00,185.53 L309.25,185.54 L309.50,185.55 L309.75,185.56 L310.00,185.57 L310.25,185.58 L310.50,185.59 L310.75,185.60 L311.00,185.60 L311.25,185.61 L311.50,185.62 L311.75,185.62 L312.00,185.63 L312.25,185.63 L312.50,185.64 L312.75,185.64 L313.00,185.65 L313.25,185.65 L313.50,185.65 L313.75,185.66 L314.00,185.66 L314.25,185.66 L314.50,185.66 L314.75,185.66 L315.00,185.66 L315.25,185.67 L315.50,185.67 L315.75,185.67 L316.00,185.67 L316.25,185.67 L316.50,185.67 L316.75,185.67 L317.00,185.67 L317.25,185.66 L317.50,185.66 L317.75,185.66 L318.00,185.66 L318.25,185.66 L318.50,185.66 L318.75,185.66 L319.00,185.65 L319.25,185.65 L319.50,185.65 L319.75,185.65 L320.00,185.64 L320.25,185.64 L320.50,185.64 L320.75,185.64 L321.00,185.63 L321.25,185.63 L321.50,185.63 L321.75,185.63 L322.00,185.62 L322.25,185.62 L322.50,185.62 L322.75,185.62 L323.00,185.61 L323.25,185.61 L323.50,185.61 L323.75,185.61 L324.00,185.60 L324.25,185.60 L324.50,185.60 L324.75,185.60 L325.00,185.59 L325.25,185.59 L325.50,185.59 L325.75,185.59 L326.00,185.59 L326.25,185.59 L326.50,185.59 L326.75,185.59 L327.00,185.59 L327.25,185.59 L327.50,185.59" fill="none" stroke="#ff0000" stroke-width="3" stroke-linejoin="round" stroke-linecap="butt"/>
<line x1="78" y1="52.5" x2="98.5" y2="52.5" stroke="#ff0000" stroke-width="3.1"/>
<line x1="78" y1="71.7" x2="98.5" y2="71.7" stroke="#000" stroke-width="3.5"/>
<text x="105.8" y="58.7" font-size="16" letter-spacing="0.25" word-spacing="0.3">PNA in CHCl<tspan font-size="9.6" dy="2" dx="0.5">3</tspan></text>
<text x="105.8" y="78.4" font-size="16" letter-spacing="0.25">CHCl<tspan font-size="9.6" dy="2" dx="0.5">3</tspan></text>
<rect x="65.3" y="188" width="3.6" height="4.7" fill="#000"/>
<rect x="326" y="188" width="3.5" height="4.6" fill="#000"/>
<text transform="translate(19.3,182.2) rotate(-90)" font-size="14.4">Intensity / CCD cts s<tspan font-size="8.6" dy="-4.3">-1</tspan></text>
</g>
<text x="338.2" y="15.8" font-size="22" text-anchor="start" font-weight="bold" >b</text>
<line x1="402.5" y1="25.789999999999992" x2="402.5" y2="186" stroke="#000" stroke-width="2"/>
<line x1="394.5" y1="182.4" x2="402.5" y2="182.4" stroke="#000" stroke-width="2"/>
<text x="388.9" y="188.6" font-size="16" text-anchor="end" font-weight="normal" >0</text>
<line x1="394.5" y1="160.17000000000002" x2="402.5" y2="160.17000000000002" stroke="#000" stroke-width="2"/>
<text x="388.9" y="166.37" font-size="16" text-anchor="end" font-weight="normal" >1</text>
<line x1="394.5" y1="137.94" x2="402.5" y2="137.94" stroke="#000" stroke-width="2"/>
<text x="388.9" y="144.14" font-size="16" text-anchor="end" font-weight="normal" >2</text>
<line x1="394.5" y1="115.71000000000001" x2="402.5" y2="115.71000000000001" stroke="#000" stroke-width="2"/>
<text x="388.9" y="121.91" font-size="16" text-anchor="end" font-weight="normal" >3</text>
<line x1="394.5" y1="93.48" x2="402.5" y2="93.48" stroke="#000" stroke-width="2"/>
<text x="388.9" y="99.68" font-size="16" text-anchor="end" font-weight="normal" >4</text>
<line x1="394.5" y1="71.25" x2="402.5" y2="71.25" stroke="#000" stroke-width="2"/>
<text x="388.9" y="77.45" font-size="16" text-anchor="end" font-weight="normal" >5</text>
<line x1="394.5" y1="49.02000000000001" x2="402.5" y2="49.02000000000001" stroke="#000" stroke-width="2"/>
<text x="388.9" y="55.22" font-size="16" text-anchor="end" font-weight="normal" >6</text>
<line x1="394.5" y1="26.789999999999992" x2="402.5" y2="26.789999999999992" stroke="#000" stroke-width="2"/>
<text x="389.4" y="34.58999999999999" font-size="16" text-anchor="end" font-weight="normal" >7 x10</text>
<text x="390.3" y="24.1" font-size="8.5" text-anchor="start" font-weight="normal" >3</text>
<line x1="401.5" y1="185" x2="665.5899999999999" y2="185" stroke="#000" stroke-width="2"/>
<line x1="404.4" y1="185" x2="404.4" y2="193" stroke="#000" stroke-width="2"/>
<text x="404.4" y="209.8" font-size="16" text-anchor="middle" font-weight="normal" >700</text>
<line x1="491.13" y1="185" x2="491.13" y2="193" stroke="#000" stroke-width="2"/>
<text x="491.13" y="209.8" font-size="16" text-anchor="middle" font-weight="normal" >800</text>
<line x1="577.8599999999999" y1="185" x2="577.8599999999999" y2="193" stroke="#000" stroke-width="2"/>
<text x="577.86" y="209.8" font-size="16" text-anchor="middle" font-weight="normal" >900</text>
<line x1="664.5899999999999" y1="185" x2="664.5899999999999" y2="193" stroke="#000" stroke-width="2"/>
<text x="664.59" y="209.8" font-size="16" text-anchor="middle" font-weight="normal" >1000</text>
<line x1="447.765" y1="185" x2="447.765" y2="189.5" stroke="#000" stroke-width="2"/>
<line x1="534.495" y1="185" x2="534.495" y2="189.5" stroke="#000" stroke-width="2"/>
<line x1="621.2249999999999" y1="185" x2="621.2249999999999" y2="189.5" stroke="#000" stroke-width="2"/>
<path d="M404.80,182.64 L405.05,182.64 L405.30,182.65 L405.55,182.65 L405.80,182.66 L406.05,182.66 L406.30,182.66 L406.55,182.67 L406.80,182.67 L407.05,182.67 L407.30,182.68 L407.55,182.68 L407.80,182.68 L408.05,182.69 L408.30,182.69 L408.55,182.69 L408.80,182.69 L409.05,182.70 L409.30,182.70 L409.55,182.70 L409.80,182.70 L410.05,182.70 L410.30,182.70 L410.55,182.70 L410.80,182.70 L411.05,182.70 L411.30,182.70 L411.55,182.70 L411.80,182.70 L412.05,182.70 L412.30,182.70 L412.55,182.70 L412.80,182.70 L413.05,182.70 L413.30,182.70 L413.55,182.70 L413.80,182.70 L414.05,182.69 L414.30,182.69 L414.55,182.69 L414.80,182.69 L415.05,182.68 L415.30,182.68 L415.55,182.68 L415.80,182.67 L416.05,182.67 L416.30,182.67 L416.55,182.66 L416.80,182.66 L417.05,182.65 L417.30,182.65 L417.55,182.64 L417.80,182.64 L418.05,182.63 L418.30,182.63 L418.55,182.62 L418.80,182.61 L419.05,182.61 L419.30,182.60 L419.55,182.59 L419.80,182.58 L420.05,182.58 L420.30,182.57 L420.55,182.56 L420.80,182.55 L421.05,182.54 L421.30,182.53 L421.55,182.52 L421.80,182.51 L422.05,182.50 L422.30,182.49 L422.55,182.48 L422.80,182.47 L423.05,182.46 L423.30,182.45 L423.55,182.44 L423.80,182.43 L424.05,182.42 L424.30,182.40 L424.55,182.39 L424.80,182.38 L425.05,182.36 L425.30,182.35 L425.55,182.34 L425.80,182.32 L426.05,182.31 L426.30,182.29 L426.55,182.28 L426.80,182.26 L427.05,182.25 L427.30,182.23 L427.55,182.21 L427.80,182.20 L428.05,182.18 L428.30,182.16 L428.55,182.15 L428.80,182.13 L429.05,182.11 L429.30,182.09 L429.55,182.07 L429.80,182.05 L430.05,182.03 L430.30,182.01 L430.55,181.99 L430.80,181.97 L431.05,181.95 L431.30,181.93 L431.55,181.91 L431.80,181.89 L432.05,181.86 L432.30,181.84 L432.55,181.82 L432.80,181.80 L433.05,181.77 L433.30,181.75 L433.55,181.72 L433.80,181.70 L434.05,181.67 L434.30,181.65 L434.55,181.62 L434.80,181.60 L435.05,181.57 L435.30,181.54 L435.55,181.51 L435.80,181.49 L436.05,181.46 L436.30,181.43 L436.55,181.40 L436.80,181.37 L437.05,181.34 L437.30,181.31 L437.55,181.28 L437.80,181.25 L438.05,181.22 L438.30,181.19 L438.55,181.16 L438.80,181.12 L439.05,181.09 L439.30,181.06 L439.55,181.03 L439.80,180.99 L440.05,180.96 L440.30,180.92 L440.55,180.89 L440.80,180.85 L441.05,180.82 L441.30,180.78 L441.55,180.74 L441.80,180.71 L442.05,180.67 L442.30,180.63 L442.55,180.59 L442.80,180.55 L443.05,180.51 L443.30,180.47 L443.55,180.43 L443.80,180.39 L444.05,180.35 L444.30,180.31 L444.55,180.27 L444.80,180.23 L445.05,180.18 L445.30,180.14 L445.55,180.10 L445.80,180.05 L446.05,180.01 L446.30,179.96 L446.55,179.92 L446.80,179.87 L447.05,179.83 L447.30,179.78 L447.55,179.73 L447.80,179.68 L448.05,179.64 L448.30,179.59 L448.55,179.54 L448.80,179.49 L449.05,179.44 L449.30,179.39 L449.55,179.34 L449.80,179.29 L450.05,179.23 L450.30,179.18 L450.55,179.13 L450.80,179.08 L451.05,179.02 L451.30,178.97 L451.55,178.91 L451.80,178.86 L452.05,178.80 L452.30,178.75 L452.55,178.69 L452.80,178.63 L453.05,178.57 L453.30,178.52 L453.55,178.46 L453.80,178.40 L454.05,178.34 L454.30,178.28 L454.55,178.22 L454.80,178.16 L455.05,178.09 L455.30,178.03 L455.55,177.97 L455.80,177.91 L456.05,177.84 L456.30,177.78 L456.55,177.71 L456.80,177.65 L457.05,177.58 L457.30,177.52 L457.55,177.45 L457.80,177.38 L458.05,177.31 L458.30,177.24 L458.55,177.18 L458.80,177.11 L459.05,177.04 L459.30,176.97 L459.55,176.89 L459.80,176.82 L460.05,176.75 L460.30,176.68 L460.55,176.60 L460.80,176.53 L461.05,176.45 L461.30,176.38 L461.55,176.30 L461.80,176.23 L462.05,176.15 L462.30,176.07 L462.55,176.00 L462.80,175.92 L463.05,175.84 L463.30,175.76 L463.55,175.68 L463.80,175.60 L464.05,175.51 L464.30,175.43 L464.55,175.35 L464.80,175.26 L465.05,175.18 L465.30,175.09 L465.55,175.01 L465.80,174.92 L466.05,174.83 L466.30,174.74 L466.55,174.65 L466.80,174.56 L467.05,174.47 L467.30,174.38 L467.55,174.28 L467.80,174.19 L468.05,174.09 L468.30,174.00 L468.55,173.90 L468.80,173.80 L469.05,173.70 L469.30,173.60 L469.55,173.50 L469.80,173.40 L470.05,173.30 L470.30,173.19 L470.55,173.09 L470.80,172.98 L471.05,172.87 L471.30,172.76 L471.55,172.65 L471.80,172.54 L472.05,172.43 L472.30,172.32 L472.55,172.20 L472.80,172.09 L473.05,171.97 L473.30,171.85 L473.55,171.73 L473.80,171.61 L474.05,171.49 L474.30,171.37 L474.55,171.24 L474.80,171.12 L475.05,170.99 L475.30,170.86 L475.55,170.73 L475.80,170.60 L476.05,170.47 L476.30,170.33 L476.55,170.20 L476.80,170.06 L477.05,169.92 L477.30,169.78 L477.55,169.64 L477.80,169.50 L478.05,169.35 L478.30,169.21 L478.55,169.06 L478.80,168.91 L479.05,168.76 L479.30,168.61 L479.55,168.46 L479.80,168.30 L480.05,168.15 L480.30,167.99 L480.55,167.83 L480.80,167.67 L481.05,167.50 L481.30,167.34 L481.55,167.17 L481.80,167.00 L482.05,166.83 L482.30,166.66 L482.55,166.49 L482.80,166.31 L483.05,166.14 L483.30,165.96 L483.55,165.78 L483.80,165.60 L484.05,165.41 L484.30,165.23 L484.55,165.04 L484.80,164.85 L485.05,164.66 L485.30,164.46 L485.55,164.27 L485.80,164.07 L486.05,163.87 L486.30,163.67 L486.55,163.47 L486.80,163.26 L487.05,163.05 L487.30,162.84 L487.55,162.63 L487.80,162.42 L488.05,162.20 L488.30,161.99 L488.55,161.77 L488.80,161.54 L489.05,161.32 L489.30,161.09 L489.55,160.87 L489.80,160.64 L490.05,160.40 L490.30,160.17 L490.55,159.93 L490.80,159.69 L491.05,159.45 L491.30,159.21 L491.55,158.96 L491.80,158.71 L492.05,158.46 L492.30,158.21 L492.55,157.96 L492.80,157.70 L493.05,157.44 L493.30,157.18 L493.55,156.91 L493.80,156.65 L494.05,156.38 L494.30,156.11 L494.55,155.83 L494.80,155.56 L495.05,155.28 L495.30,155.00 L495.55,154.71 L495.80,154.43 L496.05,154.14 L496.30,153.85 L496.55,153.55 L496.80,153.26 L497.05,152.96 L497.30,152.66 L497.55,152.35 L497.80,152.05 L498.05,151.74 L498.30,151.43 L498.55,151.11 L498.80,150.79 L499.05,150.48 L499.30,150.15 L499.55,149.83 L499.80,149.50 L500.05,149.17 L500.30,148.84 L500.55,148.51 L500.80,148.17 L501.05,147.83 L501.30,147.49 L501.55,147.14 L501.80,146.79 L502.05,146.44 L502.30,146.09 L502.55,145.74 L502.80,145.38 L503.05,145.02 L503.30,144.65 L503.55,144.29 L503.80,143.92 L504.05,143.55 L504.30,143.18 L504.55,142.80 L504.80,142.42 L505.05,142.04 L505.30,141.65 L505.55,141.27 L505.80,140.88 L506.05,140.49 L506.30,140.09 L506.55,139.69 L506.80,139.29 L507.05,138.89 L507.30,138.49 L507.55,138.08 L507.80,137.67 L508.05,137.26 L508.30,136.84 L508.55,136.42 L508.80,136.00 L509.05,135.58 L509.30,135.15 L509.55,134.72 L509.80,134.29 L510.05,133.85 L510.30,133.42 L510.55,132.98 L510.80,132.53 L511.05,132.09 L511.30,131.64 L511.55,131.19 L511.80,130.74 L512.05,130.28 L512.30,129.82 L512.55,129.36 L512.80,128.90 L513.05,128.43 L513.30,127.96 L513.55,127.49 L513.80,127.01 L514.05,126.54 L514.30,126.05 L514.55,125.57 L514.80,125.09 L515.05,124.60 L515.30,124.11 L515.55,123.61 L515.80,123.11 L516.05,122.62 L516.30,122.11 L516.55,121.61 L516.80,121.10 L517.05,120.59 L517.30,120.08 L517.55,119.56 L517.80,119.04 L518.05,118.52 L518.30,118.00 L518.55,117.47 L518.80,116.94 L519.05,116.41 L519.30,115.88 L519.55,115.34 L519.80,114.80 L520.05,114.26 L520.30,113.72 L520.55,113.18 L520.80,112.63 L521.05,112.09 L521.30,111.54 L521.55,110.99 L521.80,110.44 L522.05,109.88 L522.30,109.33 L522.55,108.77 L522.80,108.21 L523.05,107.66 L523.30,107.10 L523.55,106.54 L523.80,105.98 L524.05,105.41 L524.30,104.85 L524.55,104.29 L524.80,103.72 L525.05,103.16 L525.30,102.59 L525.55,102.02 L525.80,101.46 L526.05,100.89 L526.30,100.32 L526.55,99.76 L526.80,99.19 L527.05,98.62 L527.30,98.06 L527.55,97.49 L527.80,96.92 L528.05,96.35 L528.30,95.79 L528.55,95.22 L528.80,94.66 L529.05,94.09 L529.30,93.53 L529.55,92.96 L529.80,92.40 L530.05,91.84 L530.30,91.28 L530.55,90.72 L530.80,90.16 L531.05,89.60 L531.30,89.05 L531.55,88.49 L531.80,87.94 L532.05,87.39 L532.30,86.84 L532.55,86.29 L532.80,85.74 L533.05,85.20 L533.30,84.65 L533.55,84.11 L533.80,83.57 L534.05,83.04 L534.30,82.50 L534.55,81.97 L534.80,81.44 L535.05,80.91 L535.30,80.39 L535.55,79.87 L535.80,79.35 L536.05,78.83 L536.30,78.32 L536.55,77.81 L536.80,77.31 L537.05,76.80 L537.30,76.30 L537.55,75.81 L537.80,75.31 L538.05,74.83 L538.30,74.34 L538.55,73.86 L538.80,73.38 L539.05,72.91 L539.30,72.44 L539.55,71.97 L539.80,71.51 L540.05,71.05 L540.30,70.60 L540.55,70.15 L540.80,69.71 L541.05,69.27 L541.30,68.83 L541.55,68.40 L541.80,67.98 L542.05,67.56 L542.30,67.14 L542.55,66.73 L542.80,66.33 L543.05,65.93 L543.30,65.54 L543.55,65.15 L543.80,64.77 L544.05,64.39 L544.30,64.02 L544.55,63.65 L544.80,63.30 L545.05,62.94 L545.30,62.60 L545.55,62.25 L545.80,61.92 L546.05,61.59 L546.30,61.27 L546.55,60.95 L546.80,60.64 L547.05,60.34 L547.30,60.04 L547.55,59.75 L547.80,59.46 L548.05,59.18 L548.30,58.91 L548.55,58.64 L548.80,58.38 L549.05,58.13 L549.30,57.88 L549.55,57.64 L549.80,57.41 L550.05,57.18 L550.30,56.95 L550.55,56.74 L550.80,56.53 L551.05,56.32 L551.30,56.13 L551.55,55.94 L551.80,55.75 L552.05,55.58 L552.30,55.40 L552.55,55.24 L552.80,55.08 L553.05,54.93 L553.30,54.78 L553.55,54.65 L553.80,54.51 L554.05,54.39 L554.30,54.27 L554.55,54.16 L554.80,54.05 L555.05,53.95 L555.30,53.86 L555.55,53.77 L555.80,53.69 L556.05,53.62 L556.30,53.55 L556.55,53.49 L556.80,53.44 L557.05,53.39 L557.30,53.35 L557.55,53.32 L557.80,53.30 L558.05,53.28 L558.30,53.26 L558.55,53.26 L558.80,53.26 L559.05,53.27 L559.30,53.28 L559.55,53.30 L559.80,53.33 L560.05,53.36 L560.30,53.40 L560.55,53.45 L560.80,53.50 L561.05,53.56 L561.30,53.63 L561.55,53.70 L561.80,53.78 L562.05,53.87 L562.30,53.96 L562.55,54.06 L562.80,54.16 L563.05,54.27 L563.30,54.39 L563.55,54.51 L563.80,54.64 L564.05,54.77 L564.30,54.92 L564.55,55.06 L564.80,55.22 L565.05,55.37 L565.30,55.54 L565.55,55.71 L565.80,55.89 L566.05,56.07 L566.30,56.26 L566.55,56.46 L566.80,56.66 L567.05,56.86 L567.30,57.07 L567.55,57.29 L567.80,57.52 L568.05,57.74 L568.30,57.98 L568.55,58.22 L568.80,58.47 L569.05,58.72 L569.30,58.97 L569.55,59.24 L569.80,59.51 L570.05,59.78 L570.30,60.06 L570.55,60.34 L570.80,60.63 L571.05,60.93 L571.30,61.23 L571.55,61.53 L571.80,61.84 L572.05,62.16 L572.30,62.48 L572.55,62.81 L572.80,63.14 L573.05,63.48 L573.30,63.82 L573.55,64.16 L573.80,64.52 L574.05,64.87 L574.30,65.23 L574.55,65.60 L574.80,65.97 L575.05,66.35 L575.30,66.73 L575.55,67.12 L575.80,67.51 L576.05,67.90 L576.30,68.30 L576.55,68.70 L576.80,69.11 L577.05,69.52 L577.30,69.94 L577.55,70.36 L577.80,70.78 L578.05,71.21 L578.30,71.65 L578.55,72.08 L578.80,72.52 L579.05,72.97 L579.30,73.41 L579.55,73.87 L579.80,74.32 L580.05,74.78 L580.30,75.24 L580.55,75.71 L580.80,76.18 L581.05,76.65 L581.30,77.12 L581.55,77.60 L581.80,78.09 L582.05,78.57 L582.30,79.06 L582.55,79.55 L582.80,80.04 L583.05,80.54 L583.30,81.04 L583.55,81.55 L583.80,82.05 L584.05,82.56 L584.30,83.07 L584.55,83.58 L584.80,84.10 L585.05,84.62 L585.30,85.14 L585.55,85.67 L585.80,86.19 L586.05,86.72 L586.30,87.25 L586.55,87.79 L586.80,88.32 L587.05,88.86 L587.30,89.40 L587.55,89.95 L587.80,90.49 L588.05,91.04 L588.30,91.59 L588.55,92.14 L588.80,92.69 L589.05,93.24 L589.30,93.80 L589.55,94.36 L589.80,94.92 L590.05,95.48 L590.30,96.04 L590.55,96.61 L590.80,97.18 L591.05,97.74 L591.30,98.31 L591.55,98.89 L591.80,99.46 L592.05,100.03 L592.30,100.61 L592.55,101.18 L592.80,101.76 L593.05,102.34 L593.30,102.92 L593.55,103.50 L593.80,104.08 L594.05,104.67 L594.30,105.25 L594.55,105.84 L594.80,106.42 L595.05,107.01 L595.30,107.60 L595.55,108.19 L595.80,108.78 L596.05,109.37 L596.30,109.96 L596.55,110.55 L596.80,111.14 L597.05,111.73 L597.30,112.32 L597.55,112.92 L597.80,113.51 L598.05,114.10 L598.30,114.70 L598.55,115.29 L598.80,115.89 L599.05,116.48 L599.30,117.08 L599.55,117.67 L599.80,118.27 L600.05,118.86 L600.30,119.45 L600.55,120.05 L600.80,120.64 L601.05,121.24 L601.30,121.83 L601.55,122.42 L601.80,123.02 L602.05,123.61 L602.30,124.20 L602.55,124.79 L602.80,125.38 L603.05,125.97 L603.30,126.56 L603.55,127.15 L603.80,127.74 L604.05,128.32 L604.30,128.91 L604.55,129.49 L604.80,130.08 L605.05,130.66 L605.30,131.24 L605.55,131.82 L605.80,132.40 L606.05,132.98 L606.30,133.55 L606.55,134.13 L606.80,134.70 L607.05,135.27 L607.30,135.84 L607.55,136.41 L607.80,136.98 L608.05,137.54 L608.30,138.10 L608.55,138.66 L608.80,139.22 L609.05,139.78 L609.30,140.33 L609.55,140.89 L609.80,141.44 L610.05,141.98 L610.30,142.53 L610.55,143.07 L610.80,143.61 L611.05,144.15 L611.30,144.69 L611.55,145.22 L611.80,145.75 L612.05,146.28 L612.30,146.81 L612.55,147.33 L612.80,147.85 L613.05,148.36 L613.30,148.88 L613.55,149.39 L613.80,149.90 L614.05,150.40 L614.30,150.90 L614.55,151.40 L614.80,151.89 L615.05,152.38 L615.30,152.87 L615.55,153.36 L615.80,153.84 L616.05,154.31 L616.30,154.79 L616.55,155.26 L616.80,155.72 L617.05,156.19 L617.30,156.65 L617.55,157.10 L617.80,157.55 L618.05,158.00 L618.30,158.44 L618.55,158.88 L618.80,159.31 L619.05,159.74 L619.30,160.17 L619.55,160.59 L619.80,161.00 L620.05,161.42 L620.30,161.82 L620.55,162.23 L620.80,162.63 L621.05,163.02 L621.30,163.41 L621.55,163.79 L621.80,164.17 L622.05,164.55 L622.30,164.92 L622.55,165.28 L622.80,165.64 L623.05,166.00 L623.30,166.34 L623.55,166.69 L623.80,167.03 L624.05,167.36 L624.30,167.69 L624.55,168.02 L624.80,168.34 L625.05,168.65 L625.30,168.96 L625.55,169.27 L625.80,169.57 L626.05,169.87 L626.30,170.16 L626.55,170.45 L626.80,170.73 L627.05,171.01 L627.30,171.28 L627.55,171.55 L627.80,171.82 L628.05,172.08 L628.30,172.34 L628.55,172.59 L628.80,172.84 L629.05,173.08 L629.30,173.32 L629.55,173.56 L629.80,173.79 L630.05,174.02 L630.30,174.24 L630.55,174.46 L630.80,174.68 L631.05,174.89 L631.30,175.10 L631.55,175.30 L631.80,175.50 L632.05,175.70 L632.30,175.89 L632.55,176.08 L632.80,176.26 L633.05,176.45 L633.30,176.62 L633.55,176.80 L633.80,176.97 L634.05,177.14 L634.30,177.30 L634.55,177.46 L634.80,177.62 L635.05,177.78 L635.30,177.93 L635.55,178.07 L635.80,178.22 L636.05,178.36 L636.30,178.50 L636.55,178.63 L636.80,178.76 L637.05,178.89 L637.30,179.02 L637.55,179.14 L637.80,179.26 L638.05,179.38 L638.30,179.49 L638.55,179.60 L638.80,179.71 L639.05,179.82 L639.30,179.92 L639.55,180.02 L639.80,180.12 L640.05,180.21 L640.30,180.31 L640.55,180.40 L640.80,180.48 L641.05,180.57 L641.30,180.65 L641.55,180.73 L641.80,180.81 L642.05,180.88 L642.30,180.95 L642.55,181.02 L642.80,181.09 L643.05,181.16 L643.30,181.22 L643.55,181.28 L643.80,181.34 L644.05,181.40 L644.30,181.46 L644.55,181.51 L644.80,181.56 L645.05,181.61 L645.30,181.66 L645.55,181.71 L645.80,181.75 L646.05,181.79 L646.30,181.83 L646.55,181.87 L646.80,181.91 L647.05,181.94 L647.30,181.98 L647.55,182.01 L647.80,182.04 L648.05,182.07 L648.30,182.10 L648.55,182.12 L648.80,182.15 L649.05,182.17 L649.30,182.20 L649.55,182.22 L649.80,182.24 L650.05,182.25 L650.30,182.27 L650.55,182.29 L650.80,182.30 L651.05,182.32 L651.30,182.33 L651.55,182.34 L651.80,182.35 L652.05,182.36 L652.30,182.37 L652.55,182.38 L652.80,182.39 L653.05,182.39 L653.30,182.40 L653.55,182.41 L653.80,182.41 L654.05,182.41 L654.30,182.42 L654.55,182.42 L654.80,182.42 L655.05,182.42 L655.30,182.42 L655.55,182.42 L655.80,182.43 L656.05,182.43 L656.30,182.42 L656.55,182.42 L656.80,182.42 L657.05,182.42 L657.30,182.42 L657.55,182.42 L657.80,182.42 L658.05,182.41 L658.30,182.41 L658.55,182.41 L658.80,182.41 L659.05,182.41 L659.30,182.41 L659.55,182.40 L659.80,182.40 L660.05,182.40 L660.30,182.40 L660.55,182.40 L660.80,182.40 L661.05,182.40 L661.30,182.40 L661.55,182.40 L661.80,182.40 L662.05,182.40 L662.30,182.40 L662.55,182.41 L662.80,182.41 L663.05,182.41 L663.30,182.42 L663.55,182.42 L663.80,182.43 L664.05,182.44 L664.30,182.44 L664.40,182.45" fill="none" stroke="#000" stroke-width="3" stroke-linejoin="round" stroke-linecap="butt"/>
<path d="M404.80,181.71 L405.05,181.71 L405.30,181.71 L405.55,181.72 L405.80,181.72 L406.05,181.72 L406.30,181.72 L406.55,181.72 L406.80,181.72 L407.05,181.72 L407.30,181.72 L407.55,181.72 L407.80,181.72 L408.05,181.72 L408.30,181.72 L408.55,181.71 L408.80,181.71 L409.05,181.71 L409.30,181.71 L409.55,181.71 L409.80,181.71 L410.05,181.70 L410.30,181.70 L410.55,181.70 L410.80,181.70 L411.05,181.69 L411.30,181.69 L411.55,181.69 L411.80,181.68 L412.05,181.68 L412.30,181.68 L412.55,181.67 L412.80,181.67 L413.05,181.66 L413.30,181.66 L413.55,181.65 L413.80,181.65 L414.05,181.64 L414.30,181.64 L414.55,181.63 L414.80,181.62 L415.05,181.62 L415.30,181.61 L415.55,181.60 L415.80,181.60 L416.05,181.59 L416.30,181.58 L416.55,181.57 L416.80,181.57 L417.05,181.56 L417.30,181.55 L417.55,181.54 L417.80,181.53 L418.05,181.52 L418.30,181.51 L418.55,181.50 L418.80,181.49 L419.05,181.48 L419.30,181.47 L419.55,181.46 L419.80,181.45 L420.05,181.44 L420.30,181.43 L420.55,181.42 L420.80,181.40 L421.05,181.39 L421.30,181.38 L421.55,181.37 L421.80,181.35 L422.05,181.34 L422.30,181.33 L422.55,181.31 L422.80,181.30 L423.05,181.28 L423.30,181.27 L423.55,181.25 L423.80,181.24 L424.05,181.22 L424.30,181.21 L424.55,181.19 L424.80,181.18 L425.05,181.16 L425.30,181.14 L425.55,181.12 L425.80,181.11 L426.05,181.09 L426.30,181.07 L426.55,181.05 L426.80,181.03 L427.05,181.01 L427.30,180.99 L427.55,180.98 L427.80,180.96 L428.05,180.94 L428.30,180.91 L428.55,180.89 L428.80,180.87 L429.05,180.85 L429.30,180.83 L429.55,180.81 L429.80,180.78 L430.05,180.76 L430.30,180.74 L430.55,180.72 L430.80,180.69 L431.05,180.67 L431.30,180.64 L431.55,180.62 L431.80,180.59 L432.05,180.57 L432.30,180.54 L432.55,180.52 L432.80,180.49 L433.05,180.46 L433.30,180.44 L433.55,180.41 L433.80,180.38 L434.05,180.35 L434.30,180.32 L434.55,180.30 L434.80,180.27 L435.05,180.24 L435.30,180.21 L435.55,180.18 L435.80,180.15 L436.05,180.12 L436.30,180.08 L436.55,180.05 L436.80,180.02 L437.05,179.99 L437.30,179.96 L437.55,179.92 L437.80,179.89 L438.05,179.85 L438.30,179.82 L438.55,179.79 L438.80,179.75 L439.05,179.72 L439.30,179.68 L439.55,179.64 L439.80,179.61 L440.05,179.57 L440.30,179.53 L440.55,179.50 L440.80,179.46 L441.05,179.42 L441.30,179.38 L441.55,179.34 L441.80,179.30 L442.05,179.26 L442.30,179.22 L442.55,179.18 L442.80,179.14 L443.05,179.10 L443.30,179.06 L443.55,179.01 L443.80,178.97 L444.05,178.93 L444.30,178.88 L444.55,178.84 L444.80,178.80 L445.05,178.75 L445.30,178.71 L445.55,178.66 L445.80,178.61 L446.05,178.57 L446.30,178.52 L446.55,178.47 L446.80,178.43 L447.05,178.38 L447.30,178.33 L447.55,178.28 L447.80,178.23 L448.05,178.18 L448.30,178.13 L448.55,178.08 L448.80,178.03 L449.05,177.98 L449.30,177.93 L449.55,177.87 L449.80,177.82 L450.05,177.77 L450.30,177.71 L450.55,177.66 L450.80,177.60 L451.05,177.55 L451.30,177.49 L451.55,177.44 L451.80,177.38 L452.05,177.32 L452.30,177.27 L452.55,177.21 L452.80,177.15 L453.05,177.09 L453.30,177.03 L453.55,176.97 L453.80,176.91 L454.05,176.85 L454.30,176.79 L454.55,176.73 L454.80,176.67 L455.05,176.60 L455.30,176.54 L455.55,176.48 L455.80,176.41 L456.05,176.35 L456.30,176.28 L456.55,176.22 L456.80,176.15 L457.05,176.08 L457.30,176.02 L457.55,175.95 L457.80,175.88 L458.05,175.81 L458.30,175.75 L458.55,175.68 L458.80,175.61 L459.05,175.54 L459.30,175.46 L459.55,175.39 L459.80,175.32 L460.05,175.25 L460.30,175.18 L460.55,175.10 L460.80,175.03 L461.05,174.95 L461.30,174.88 L461.55,174.80 L461.80,174.73 L462.05,174.65 L462.30,174.57 L462.55,174.50 L462.80,174.42 L463.05,174.34 L463.30,174.26 L463.55,174.18 L463.80,174.10 L464.05,174.02 L464.30,173.94 L464.55,173.86 L464.80,173.77 L465.05,173.69 L465.30,173.61 L465.55,173.52 L465.80,173.44 L466.05,173.35 L466.30,173.27 L466.55,173.18 L466.80,173.09 L467.05,173.01 L467.30,172.92 L467.55,172.83 L467.80,172.74 L468.05,172.65 L468.30,172.56 L468.55,172.47 L468.80,172.38 L469.05,172.29 L469.30,172.20 L469.55,172.10 L469.80,172.01 L470.05,171.91 L470.30,171.82 L470.55,171.72 L470.80,171.62 L471.05,171.53 L471.30,171.43 L471.55,171.33 L471.80,171.23 L472.05,171.12 L472.30,171.02 L472.55,170.92 L472.80,170.81 L473.05,170.71 L473.30,170.60 L473.55,170.49 L473.80,170.38 L474.05,170.27 L474.30,170.16 L474.55,170.04 L474.80,169.93 L475.05,169.81 L475.30,169.69 L475.55,169.58 L475.80,169.46 L476.05,169.33 L476.30,169.21 L476.55,169.08 L476.80,168.96 L477.05,168.83 L477.30,168.70 L477.55,168.57 L477.80,168.44 L478.05,168.30 L478.30,168.16 L478.55,168.03 L478.80,167.89 L479.05,167.74 L479.30,167.60 L479.55,167.45 L479.80,167.31 L480.05,167.16 L480.30,167.01 L480.55,166.85 L480.80,166.70 L481.05,166.54 L481.30,166.38 L481.55,166.22 L481.80,166.05 L482.05,165.89 L482.30,165.72 L482.55,165.55 L482.80,165.37 L483.05,165.20 L483.30,165.02 L483.55,164.84 L483.80,164.66 L484.05,164.47 L484.30,164.29 L484.55,164.10 L484.80,163.91 L485.05,163.71 L485.30,163.51 L485.55,163.31 L485.80,163.11 L486.05,162.91 L486.30,162.70 L486.55,162.49 L486.80,162.27 L487.05,162.06 L487.30,161.84 L487.55,161.62 L487.80,161.39 L488.05,161.16 L488.30,160.93 L488.55,160.70 L488.80,160.46 L489.05,160.22 L489.30,159.98 L489.55,159.74 L489.80,159.49 L490.05,159.24 L490.30,158.98 L490.55,158.72 L490.80,158.46 L491.05,158.20 L491.30,157.93 L491.55,157.67 L491.80,157.39 L492.05,157.12 L492.30,156.84 L492.55,156.56 L492.80,156.28 L493.05,156.00 L493.30,155.71 L493.55,155.42 L493.80,155.13 L494.05,154.83 L494.30,154.53 L494.55,154.23 L494.80,153.93 L495.05,153.63 L495.30,153.32 L495.55,153.01 L495.80,152.70 L496.05,152.39 L496.30,152.07 L496.55,151.75 L496.80,151.43 L497.05,151.11 L497.30,150.79 L497.55,150.46 L497.80,150.13 L498.05,149.80 L498.30,149.47 L498.55,149.14 L498.80,148.80 L499.05,148.47 L499.30,148.13 L499.55,147.79 L499.80,147.44 L500.05,147.10 L500.30,146.75 L500.55,146.41 L500.80,146.06 L501.05,145.71 L501.30,145.35 L501.55,145.00 L501.80,144.65 L502.05,144.29 L502.30,143.93 L502.55,143.57 L502.80,143.21 L503.05,142.85 L503.30,142.49 L503.55,142.12 L503.80,141.76 L504.05,141.39 L504.30,141.02 L504.55,140.65 L504.80,140.28 L505.05,139.91 L505.30,139.54 L505.55,139.17 L505.80,138.80 L506.05,138.42 L506.30,138.05 L506.55,137.67 L506.80,137.29 L507.05,136.91 L507.30,136.54 L507.55,136.16 L507.80,135.78 L508.05,135.40 L508.30,135.01 L508.55,134.63 L508.80,134.25 L509.05,133.87 L509.30,133.48 L509.55,133.10 L509.80,132.72 L510.05,132.33 L510.30,131.95 L510.55,131.56 L510.80,131.18 L511.05,130.79 L511.30,130.40 L511.55,130.01 L511.80,129.62 L512.05,129.22 L512.30,128.82 L512.55,128.42 L512.80,128.01 L513.05,127.60 L513.30,127.18 L513.55,126.76 L513.80,126.33 L514.05,125.89 L514.30,125.45 L514.55,125.00 L514.80,124.54 L515.05,124.08 L515.30,123.60 L515.55,123.12 L515.80,122.63 L516.05,122.12 L516.30,121.61 L516.55,121.09 L516.80,120.55 L517.05,120.00 L517.30,119.45 L517.55,118.87 L517.80,118.29 L518.05,117.70 L518.30,117.09 L518.55,116.48 L518.80,115.86 L519.05,115.23 L519.30,114.59 L519.55,113.95 L519.80,113.31 L520.05,112.66 L520.30,112.00 L520.55,111.35 L520.80,110.69 L521.05,110.04 L521.30,109.38 L521.55,108.73 L521.80,108.07 L522.05,107.42 L522.30,106.78 L522.55,106.14 L522.80,105.50 L523.05,104.88 L523.30,104.25 L523.55,103.64 L523.80,103.03 L524.05,102.43 L524.30,101.83 L524.55,101.25 L524.80,100.67 L525.05,100.10 L525.30,99.54 L525.55,99.00 L525.80,98.46 L526.05,97.93 L526.30,97.41 L526.55,96.90 L526.80,96.41 L527.05,95.92 L527.30,95.45 L527.55,94.99 L527.80,94.54 L528.05,94.10 L528.30,93.68 L528.55,93.26 L528.80,92.84 L529.05,92.43 L529.30,92.03 L529.55,91.62 L529.80,91.22 L530.05,90.81 L530.30,90.40 L530.55,89.98 L530.80,89.56 L531.05,89.13 L531.30,88.69 L531.55,88.24 L531.80,87.77 L532.05,87.30 L532.30,86.80 L532.55,86.29 L532.80,85.76 L533.05,85.20 L533.30,84.63 L533.55,84.03 L533.80,83.41 L534.05,82.75 L534.30,82.07 L534.55,81.36 L534.80,80.62 L535.05,79.85 L535.30,79.03 L535.55,78.19 L535.80,77.30 L536.05,76.38 L536.30,75.41 L536.55,74.40 L536.80,73.35 L537.05,72.25 L537.30,71.10 L537.55,69.90 L537.80,68.65 L538.05,67.36 L538.30,66.03 L538.55,64.66 L538.80,63.26 L539.05,61.83 L539.30,60.38 L539.55,58.90 L539.80,57.42 L540.05,55.92 L540.30,54.41 L540.55,52.91 L540.80,51.40 L541.05,49.91 L541.30,48.42 L541.55,46.95 L541.80,45.51 L542.05,44.10 L542.30,42.74 L542.55,41.43 L542.80,40.19 L543.05,39.03 L543.30,37.94 L543.55,36.95 L543.80,36.03 L544.05,35.20 L544.30,34.44 L544.55,33.75 L544.80,33.13 L545.05,32.58 L545.30,32.09 L545.55,31.66 L545.80,31.30 L546.05,30.98 L546.30,30.72 L546.55,30.51 L546.80,30.34 L547.05,30.22 L547.30,30.13 L547.55,30.09 L547.80,30.07 L548.05,30.09 L548.30,30.14 L548.55,30.21 L548.80,30.31 L549.05,30.43 L549.30,30.56 L549.55,30.71 L549.80,30.88 L550.05,31.05 L550.30,31.23 L550.55,31.42 L550.80,31.61 L551.05,31.80 L551.30,31.99 L551.55,32.17 L551.80,32.35 L552.05,32.52 L552.30,32.68 L552.55,32.84 L552.80,32.99 L553.05,33.14 L553.30,33.28 L553.55,33.41 L553.80,33.53 L554.05,33.65 L554.30,33.76 L554.55,33.86 L554.80,33.95 L555.05,34.03 L555.30,34.11 L555.55,34.17 L555.80,34.23 L556.05,34.28 L556.30,34.33 L556.55,34.37 L556.80,34.41 L557.05,34.45 L557.30,34.48 L557.55,34.51 L557.80,34.55 L558.05,34.58 L558.30,34.62 L558.55,34.65 L558.80,34.69 L559.05,34.74 L559.30,34.79 L559.55,34.84 L559.80,34.90 L560.05,34.96 L560.30,35.03 L560.55,35.10 L560.80,35.17 L561.05,35.25 L561.30,35.33 L561.55,35.42 L561.80,35.52 L562.05,35.62 L562.30,35.72 L562.55,35.83 L562.80,35.94 L563.05,36.06 L563.30,36.18 L563.55,36.31 L563.80,36.45 L564.05,36.59 L564.30,36.73 L564.55,36.89 L564.80,37.04 L565.05,37.21 L565.30,37.37 L565.55,37.55 L565.80,37.73 L566.05,37.92 L566.30,38.11 L566.55,38.31 L566.80,38.51 L567.05,38.72 L567.30,38.94 L567.55,39.16 L567.80,39.39 L568.05,39.63 L568.30,39.87 L568.55,40.12 L568.80,40.37 L569.05,40.63 L569.30,40.90 L569.55,41.17 L569.80,41.45 L570.05,41.73 L570.30,42.02 L570.55,42.32 L570.80,42.62 L571.05,42.93 L571.30,43.25 L571.55,43.57 L571.80,43.89 L572.05,44.22 L572.30,44.56 L572.55,44.91 L572.80,45.26 L573.05,45.61 L573.30,45.97 L573.55,46.34 L573.80,46.72 L574.05,47.10 L574.30,47.48 L574.55,47.87 L574.80,48.27 L575.05,48.67 L575.30,49.08 L575.55,49.50 L575.80,49.92 L576.05,50.34 L576.30,50.77 L576.55,51.21 L576.80,51.66 L577.05,52.11 L577.30,52.56 L577.55,53.02 L577.80,53.49 L578.05,53.96 L578.30,54.44 L578.55,54.92 L578.80,55.41 L579.05,55.90 L579.30,56.40 L579.55,56.90 L579.80,57.41 L580.05,57.92 L580.30,58.44 L580.55,58.96 L580.80,59.48 L581.05,60.01 L581.30,60.54 L581.55,61.07 L581.80,61.61 L582.05,62.15 L582.30,62.69 L582.55,63.24 L582.80,63.79 L583.05,64.34 L583.30,64.90 L583.55,65.45 L583.80,66.01 L584.05,66.57 L584.30,67.14 L584.55,67.70 L584.80,68.27 L585.05,68.83 L585.30,69.40 L585.55,69.97 L585.80,70.54 L586.05,71.11 L586.30,71.68 L586.55,72.26 L586.80,72.83 L587.05,73.40 L587.30,73.98 L587.55,74.55 L587.80,75.12 L588.05,75.69 L588.30,76.26 L588.55,76.84 L588.80,77.41 L589.05,77.97 L589.30,78.54 L589.55,79.11 L589.80,79.68 L590.05,80.24 L590.30,80.81 L590.55,81.38 L590.80,81.94 L591.05,82.51 L591.30,83.08 L591.55,83.64 L591.80,84.21 L592.05,84.78 L592.30,85.35 L592.55,85.92 L592.80,86.49 L593.05,87.07 L593.30,87.64 L593.55,88.22 L593.80,88.80 L594.05,89.38 L594.30,89.96 L594.55,90.54 L594.80,91.13 L595.05,91.72 L595.30,92.31 L595.55,92.90 L595.80,93.50 L596.05,94.10 L596.30,94.71 L596.55,95.31 L596.80,95.92 L597.05,96.54 L597.30,97.16 L597.55,97.78 L597.80,98.41 L598.05,99.04 L598.30,99.67 L598.55,100.31 L598.80,100.95 L599.05,101.60 L599.30,102.26 L599.55,102.91 L599.80,103.58 L600.05,104.25 L600.30,104.92 L600.55,105.60 L600.80,106.29 L601.05,106.98 L601.30,107.67 L601.55,108.37 L601.80,109.07 L602.05,109.77 L602.30,110.48 L602.55,111.18 L602.80,111.90 L603.05,112.61 L603.30,113.32 L603.55,114.04 L603.80,114.76 L604.05,115.47 L604.30,116.19 L604.55,116.91 L604.80,117.63 L605.05,118.34 L605.30,119.06 L605.55,119.77 L605.80,120.49 L606.05,121.20 L606.30,121.91 L606.55,122.61 L606.80,123.31 L607.05,124.01 L607.30,124.71 L607.55,125.40 L607.80,126.09 L608.05,126.78 L608.30,127.45 L608.55,128.13 L608.80,128.80 L609.05,129.46 L609.30,130.12 L609.55,130.77 L609.80,131.41 L610.05,132.05 L610.30,132.67 L610.55,133.30 L610.80,133.91 L611.05,134.52 L611.30,135.12 L611.55,135.72 L611.80,136.31 L612.05,136.89 L612.30,137.47 L612.55,138.04 L612.80,138.61 L613.05,139.17 L613.30,139.73 L613.55,140.28 L613.80,140.83 L614.05,141.38 L614.30,141.92 L614.55,142.45 L614.80,142.99 L615.05,143.52 L615.30,144.04 L615.55,144.57 L615.80,145.09 L616.05,145.61 L616.30,146.12 L616.55,146.63 L616.80,147.14 L617.05,147.64 L617.30,148.14 L617.55,148.64 L617.80,149.13 L618.05,149.62 L618.30,150.11 L618.55,150.59 L618.80,151.07 L619.05,151.55 L619.30,152.02 L619.55,152.49 L619.80,152.95 L620.05,153.41 L620.30,153.87 L620.55,154.33 L620.80,154.78 L621.05,155.22 L621.30,155.67 L621.55,156.10 L621.80,156.54 L622.05,156.97 L622.30,157.40 L622.55,157.82 L622.80,158.24 L623.05,158.66 L623.30,159.07 L623.55,159.48 L623.80,159.88 L624.05,160.28 L624.30,160.67 L624.55,161.06 L624.80,161.45 L625.05,161.83 L625.30,162.21 L625.55,162.59 L625.80,162.96 L626.05,163.32 L626.30,163.69 L626.55,164.04 L626.80,164.40 L627.05,164.74 L627.30,165.09 L627.55,165.43 L627.80,165.76 L628.05,166.10 L628.30,166.42 L628.55,166.74 L628.80,167.06 L629.05,167.37 L629.30,167.68 L629.55,167.99 L629.80,168.28 L630.05,168.58 L630.30,168.87 L630.55,169.15 L630.80,169.43 L631.05,169.71 L631.30,169.98 L631.55,170.25 L631.80,170.51 L632.05,170.77 L632.30,171.02 L632.55,171.27 L632.80,171.52 L633.05,171.76 L633.30,171.99 L633.55,172.23 L633.80,172.45 L634.05,172.68 L634.30,172.90 L634.55,173.12 L634.80,173.33 L635.05,173.54 L635.30,173.74 L635.55,173.94 L635.80,174.14 L636.05,174.33 L636.30,174.52 L636.55,174.71 L636.80,174.89 L637.05,175.07 L637.30,175.24 L637.55,175.41 L637.80,175.58 L638.05,175.74 L638.30,175.90 L638.55,176.06 L638.80,176.22 L639.05,176.37 L639.30,176.51 L639.55,176.66 L639.80,176.80 L640.05,176.94 L640.30,177.07 L640.55,177.20 L640.80,177.33 L641.05,177.46 L641.30,177.58 L641.55,177.70 L641.80,177.82 L642.05,177.93 L642.30,178.04 L642.55,178.15 L642.80,178.26 L643.05,178.36 L643.30,178.46 L643.55,178.56 L643.80,178.66 L644.05,178.75 L644.30,178.84 L644.55,178.93 L644.80,179.01 L645.05,179.10 L645.30,179.18 L645.55,179.26 L645.80,179.33 L646.05,179.41 L646.30,179.48 L646.55,179.55 L646.80,179.62 L647.05,179.69 L647.30,179.75 L647.55,179.81 L647.80,179.87 L648.05,179.93 L648.30,179.99 L648.55,180.04 L648.80,180.09 L649.05,180.15 L649.30,180.20 L649.55,180.24 L649.80,180.29 L650.05,180.33 L650.30,180.38 L650.55,180.42 L650.80,180.46 L651.05,180.50 L651.30,180.54 L651.55,180.57 L651.80,180.61 L652.05,180.64 L652.30,180.67 L652.55,180.70 L652.80,180.73 L653.05,180.76 L653.30,180.79 L653.55,180.82 L653.80,180.84 L654.05,180.87 L654.30,180.89 L654.55,180.92 L654.80,180.94 L655.05,180.96 L655.30,180.98 L655.55,181.00 L655.80,181.02 L656.05,181.04 L656.30,181.06 L656.55,181.08 L656.80,181.10 L657.05,181.11 L657.30,181.13 L657.55,181.15 L657.80,181.16 L658.05,181.18 L658.30,181.19 L658.55,181.21 L658.80,181.22 L659.05,181.24 L659.30,181.25 L659.55,181.27 L659.80,181.28 L660.05,181.30 L660.30,181.31 L660.55,181.33 L660.80,181.34 L661.05,181.36 L661.30,181.37 L661.55,181.39 L661.80,181.40 L662.05,181.42 L662.30,181.44 L662.55,181.45 L662.80,181.47 L663.05,181.49 L663.30,181.51 L663.55,181.53 L663.80,181.55 L664.05,181.57 L664.30,181.59 L664.40,181.60" fill="none" stroke="#ff0000" stroke-width="3" stroke-linejoin="round" stroke-linecap="butt"/>
<line x1="408.3" y1="52.5" x2="428.9" y2="52.5" stroke="#ff0000" stroke-width="3.1"/>
<line x1="408.3" y1="71.7" x2="428.9" y2="71.7" stroke="#000" stroke-width="3.5"/>
<text x="433.8" y="58.5" font-size="16" letter-spacing="0.25" word-spacing="0.3">PNA in CHCl<tspan font-size="9.6" dy="2" dx="0.5">3</tspan></text>
<text x="433.8" y="77.6" font-size="16" letter-spacing="0.25">CHCl<tspan font-size="9.6" dy="2" dx="0.5">3</tspan></text>
<text transform="translate(364.2,182) rotate(-90)" font-size="14.4">Intensity / CCD cts s<tspan font-size="8.6" dy="-4.3">-1</tspan></text>
<rect x="394.4" y="181" width="8" height="3.7" fill="#000"/>
<text x="1.3" y="227.7" font-size="22" text-anchor="start" font-weight="bold" >c</text>
<line x1="63.4" y1="230.76" x2="63.4" y2="391.2" stroke="#000" stroke-width="2"/>
<line x1="55.2" y1="388.0" x2="63.4" y2="388.0" stroke="#000" stroke-width="2"/>
<text x="50.2" y="394.4" font-size="16" text-anchor="end" font-weight="normal" >0.0</text>
<line x1="55.2" y1="348.94" x2="63.4" y2="348.94" stroke="#000" stroke-width="2"/>
<text x="50.2" y="355.34" font-size="16" text-anchor="end" font-weight="normal" >0.5</text>
<line x1="55.2" y1="309.88" x2="63.4" y2="309.88" stroke="#000" stroke-width="2"/>
<text x="50.2" y="316.28" font-size="16" text-anchor="end" font-weight="normal" >1.0</text>
<line x1="55.2" y1="270.82" x2="63.4" y2="270.82" stroke="#000" stroke-width="2"/>
<text x="50.2" y="277.22" font-size="16" text-anchor="end" font-weight="normal" >1.5</text>
<line x1="55.2" y1="231.76" x2="63.4" y2="231.76" stroke="#000" stroke-width="2"/>
<text x="50.2" y="238.16" font-size="16" text-anchor="end" font-weight="normal" >2.0</text>
<line x1="62.4" y1="390.2" x2="326.70000000000005" y2="390.2" stroke="#000" stroke-width="2"/>
<line x1="65.6" y1="390.2" x2="65.6" y2="398.4" stroke="#000" stroke-width="2"/>
<text x="63.1" y="415.2" font-size="16" text-anchor="middle" font-weight="normal" >1200</text>
<line x1="130.625" y1="390.2" x2="130.625" y2="398.4" stroke="#000" stroke-width="2"/>
<text x="128.12" y="415.2" font-size="16" text-anchor="middle" font-weight="normal" >1250</text>
<line x1="195.65" y1="390.2" x2="195.65" y2="398.4" stroke="#000" stroke-width="2"/>
<text x="193.15" y="415.2" font-size="16" text-anchor="middle" font-weight="normal" >1300</text>
<line x1="260.67499999999995" y1="390.2" x2="260.67499999999995" y2="398.4" stroke="#000" stroke-width="2"/>
<text x="258.17" y="415.2" font-size="16" text-anchor="middle" font-weight="normal" >1350</text>
<line x1="325.70000000000005" y1="390.2" x2="325.70000000000005" y2="398.4" stroke="#000" stroke-width="2"/>
<text x="323.2" y="415.2" font-size="16" text-anchor="middle" font-weight="normal" >1400</text>
<path d="M66.00,307.00 C66.33,307.10 67.33,307.10 68.00,307.60 C68.67,308.10 69.17,309.33 70.00,310.00 C70.83,310.67 72.00,311.27 73.00,311.60 C74.00,311.93 74.83,312.03 76.00,312.00 C77.17,311.97 78.67,311.33 80.00,311.40 C81.33,311.47 82.67,312.03 84.00,312.40 C85.33,312.77 86.67,313.27 88.00,313.60 C89.33,313.93 90.83,314.33 92.00,314.40 C93.17,314.47 94.00,313.80 95.00,314.00 C96.00,314.20 96.50,315.20 98.00,315.60 C99.50,316.00 102.00,316.00 104.00,316.40 C106.00,316.80 107.33,317.47 110.00,318.00 C112.67,318.53 116.67,319.10 120.00,319.60 C123.33,320.10 126.67,320.53 130.00,321.00 C133.33,321.47 136.67,321.97 140.00,322.40 C143.33,322.83 147.00,323.17 150.00,323.60 C153.00,324.03 155.50,324.27 158.00,325.00 C160.50,325.73 163.00,327.17 165.00,328.00 C167.00,328.83 167.50,329.00 170.00,330.00 C172.50,331.00 177.50,333.00 180.00,334.00 C182.50,335.00 183.50,335.57 185.00,336.00 C186.50,336.43 187.33,336.72 189.00,336.60 C190.67,336.48 193.33,335.77 195.00,335.30 C196.67,334.83 197.67,334.18 199.00,333.80 C200.33,333.42 201.67,332.92 203.00,333.00 C204.33,333.08 205.67,333.70 207.00,334.30 C208.33,334.90 209.75,335.98 211.00,336.60 C212.25,337.22 213.20,338.42 214.50,338.00 C215.80,337.58 217.63,336.25 218.80,334.10 C219.97,331.95 220.60,328.98 221.50,325.10 C222.40,321.22 223.30,316.18 224.20,310.80 C225.10,305.42 226.00,298.78 226.90,292.80 C227.80,286.82 228.70,280.58 229.60,274.90 C230.50,269.22 231.40,263.48 232.30,258.70 C233.20,253.92 233.95,249.48 235.00,246.20 C236.05,242.92 237.40,239.00 238.60,239.00 C239.80,239.00 241.15,243.22 242.20,246.20 C243.25,249.18 244.00,253.02 244.90,256.90 C245.80,260.78 246.70,265.60 247.60,269.50 C248.50,273.40 249.40,277.32 250.30,280.30 C251.20,283.28 251.97,285.47 253.00,287.40 C254.03,289.33 255.17,290.63 256.50,291.90 C257.83,293.17 259.35,294.10 261.00,295.00 C262.65,295.90 264.90,296.73 266.40,297.30 C267.90,297.87 268.57,297.95 270.00,298.40 C271.43,298.85 273.33,299.47 275.00,300.00 C276.67,300.53 278.17,301.22 280.00,301.60 C281.83,301.98 284.00,302.25 286.00,302.30 C288.00,302.35 290.00,302.13 292.00,301.90 C294.00,301.67 296.17,301.27 298.00,300.90 C299.83,300.53 301.50,299.90 303.00,299.70 C304.50,299.50 305.83,299.87 307.00,299.70 C308.17,299.53 308.67,298.87 310.00,298.70 C311.33,298.53 313.33,299.12 315.00,298.70 C316.67,298.28 318.25,296.93 320.00,296.20 C321.75,295.47 324.58,294.62 325.50,294.30" fill="none" stroke="#ff0000" stroke-width="3.6" stroke-linejoin="round" stroke-linecap="butt"/>
<text transform="translate(19.3,376.8) rotate(-90)" font-size="15.6">Corrected intensity</text>
<text x="338.2" y="228" font-size="22" text-anchor="start" font-weight="bold" >d</text>
<line x1="405" y1="232.7" x2="405" y2="393.0" stroke="#000" stroke-width="2"/>
<line x1="396.4" y1="389.7" x2="405" y2="389.7" stroke="#000" stroke-width="2"/>
<text x="392.9" y="396.1" font-size="16" text-anchor="end" font-weight="normal" >0.0</text>
<line x1="396.4" y1="350.7" x2="405" y2="350.7" stroke="#000" stroke-width="2"/>
<text x="392.9" y="357.1" font-size="16" text-anchor="end" font-weight="normal" >0.5</text>
<line x1="396.4" y1="311.7" x2="405" y2="311.7" stroke="#000" stroke-width="2"/>
<text x="392.9" y="318.1" font-size="16" text-anchor="end" font-weight="normal" >1.0</text>
<line x1="396.4" y1="272.7" x2="405" y2="272.7" stroke="#000" stroke-width="2"/>
<text x="392.9" y="279.1" font-size="16" text-anchor="end" font-weight="normal" >1.5</text>
<line x1="396.4" y1="233.7" x2="405" y2="233.7" stroke="#000" stroke-width="2"/>
<text x="392.9" y="240.1" font-size="16" text-anchor="end" font-weight="normal" >2.0</text>
<line x1="404" y1="392.0" x2="668.4" y2="392.0" stroke="#000" stroke-width="2"/>
<line x1="406.9" y1="392.0" x2="406.9" y2="400.2" stroke="#000" stroke-width="2"/>
<text x="406.9" y="417.8" font-size="16" text-anchor="middle" font-weight="normal" >750</text>
<line x1="472.025" y1="392.0" x2="472.025" y2="400.2" stroke="#000" stroke-width="2"/>
<text x="472.02" y="417.8" font-size="16" text-anchor="middle" font-weight="normal" >800</text>
<line x1="537.15" y1="392.0" x2="537.15" y2="400.2" stroke="#000" stroke-width="2"/>
<text x="537.15" y="417.8" font-size="16" text-anchor="middle" font-weight="normal" >850</text>
<line x1="602.275" y1="392.0" x2="602.275" y2="400.2" stroke="#000" stroke-width="2"/>
<text x="602.27" y="417.8" font-size="16" text-anchor="middle" font-weight="normal" >900</text>
<line x1="667.4" y1="392.0" x2="667.4" y2="400.2" stroke="#000" stroke-width="2"/>
<text x="667.4" y="417.8" font-size="16" text-anchor="middle" font-weight="normal" >950</text>
<path d="M407.00,286.60 C407.50,286.83 408.67,287.77 410.00,288.00 C411.33,288.23 413.33,287.73 415.00,288.00 C416.67,288.27 418.33,289.17 420.00,289.60 C421.67,290.03 423.33,290.10 425.00,290.60 C426.67,291.10 428.33,292.03 430.00,292.60 C431.67,293.17 433.33,293.50 435.00,294.00 C436.67,294.50 438.33,294.87 440.00,295.60 C441.67,296.33 443.33,297.57 445.00,298.40 C446.67,299.23 448.33,300.07 450.00,300.60 C451.67,301.13 453.33,301.20 455.00,301.60 C456.67,302.00 458.33,302.67 460.00,303.00 C461.67,303.33 463.33,303.27 465.00,303.60 C466.67,303.93 468.33,304.53 470.00,305.00 C471.67,305.47 473.33,306.13 475.00,306.40 C476.67,306.67 477.50,306.40 480.00,306.60 C482.50,306.80 486.67,307.30 490.00,307.60 C493.33,307.90 496.67,308.27 500.00,308.40 C503.33,308.53 507.50,308.40 510.00,308.40 C512.50,308.40 513.33,308.22 515.00,308.40 C516.67,308.58 518.33,309.07 520.00,309.50 C521.67,309.93 523.43,310.45 525.00,311.00 C526.57,311.55 527.93,312.35 529.40,312.80 C530.87,313.25 532.35,313.92 533.80,313.70 C535.25,313.48 536.65,312.88 538.10,311.50 C539.55,310.12 541.03,307.58 542.50,305.40 C543.97,303.22 545.43,300.37 546.90,298.40 C548.37,296.43 549.98,294.55 551.30,293.60 C552.62,292.65 553.63,292.63 554.80,292.70 C555.97,292.77 556.98,293.27 558.30,294.00 C559.62,294.73 561.25,296.22 562.70,297.10 C564.15,297.98 565.25,298.72 567.00,299.30 C568.75,299.88 571.15,300.43 573.20,300.60 C575.25,300.77 576.50,300.33 579.30,300.30 C582.10,300.27 586.55,300.40 590.00,300.40 C593.45,300.40 595.00,300.53 600.00,300.30 C605.00,300.07 613.33,299.38 620.00,299.00 C626.67,298.62 635.00,298.35 640.00,298.00 C645.00,297.65 646.67,297.22 650.00,296.90 C653.33,296.58 657.17,296.38 660.00,296.10 C662.83,295.82 665.83,295.35 667.00,295.20" fill="none" stroke="#ff0000" stroke-width="3.6" stroke-linejoin="round" stroke-linecap="butt"/>
<text transform="translate(365.3,377.2) rotate(-90)" font-size="15.6">Corrected intensity</text>
<text x="1.3" y="435.5" font-size="22" text-anchor="start" font-weight="bold" >e</text>
<line x1="63.6" y1="437.90000000000003" x2="63.6" y2="598.4" stroke="#000" stroke-width="2"/>
<line x1="55.3" y1="595.1" x2="63.6" y2="595.1" stroke="#000" stroke-width="2"/>
<text x="47.8" y="602.1" font-size="16.7" text-anchor="end" font-weight="normal" >0</text>
<line x1="55.3" y1="556.0500000000001" x2="63.6" y2="556.0500000000001" stroke="#000" stroke-width="2"/>
<text x="51" y="563.05" font-size="16.7" text-anchor="end" font-weight="normal" >10</text>
<line x1="55.3" y1="517.0" x2="63.6" y2="517.0" stroke="#000" stroke-width="2"/>
<text x="51" y="524.0" font-size="16.7" text-anchor="end" font-weight="normal" >20</text>
<line x1="55.3" y1="477.95000000000005" x2="63.6" y2="477.95000000000005" stroke="#000" stroke-width="2"/>
<text x="51" y="484.95" font-size="16.7" text-anchor="end" font-weight="normal" >30</text>
<line x1="55.3" y1="438.90000000000003" x2="63.6" y2="438.90000000000003" stroke="#000" stroke-width="2"/>
<text x="51" y="445.9" font-size="16.7" text-anchor="end" font-weight="normal" >40</text>
<line x1="62.6" y1="597.4" x2="327.0" y2="597.4" stroke="#000" stroke-width="2"/>
<line x1="66.0" y1="597.4" x2="66.0" y2="605.6" stroke="#000" stroke-width="2"/>
<text x="65.3" y="623" font-size="16" text-anchor="middle" font-weight="normal" >1200</text>
<line x1="131.0" y1="597.4" x2="131.0" y2="605.6" stroke="#000" stroke-width="2"/>
<text x="130.3" y="623" font-size="16" text-anchor="middle" font-weight="normal" >1250</text>
<line x1="196.0" y1="597.4" x2="196.0" y2="605.6" stroke="#000" stroke-width="2"/>
<text x="195.3" y="623" font-size="16" text-anchor="middle" font-weight="normal" >1300</text>
<line x1="261.0" y1="597.4" x2="261.0" y2="605.6" stroke="#000" stroke-width="2"/>
<text x="260.3" y="623" font-size="16" text-anchor="middle" font-weight="normal" >1350</text>
<line x1="326.0" y1="597.4" x2="326.0" y2="605.6" stroke="#000" stroke-width="2"/>
<text x="325.3" y="623" font-size="16" text-anchor="middle" font-weight="normal" >1400</text>
<path d="M66.40,540.30 L69.00,541.20 L71.60,542.50 L74.30,544.30 L76.90,544.70 L79.50,546.90 L82.10,547.90 L85.60,548.50 L88.30,549.50 L90.90,550.60 L93.50,551.10 L96.20,552.60 L99.70,552.30 L102.30,553.00 L104.90,553.90 L107.50,552.80 L110.20,552.80 L112.80,553.50 L115.40,552.00 L118.10,552.00 L120.00,552.30 L123.10,551.00 L126.10,552.80 L128.80,550.60 L130.90,549.10 L133.10,551.00 L135.80,552.60 L138.40,551.90 L141.50,552.10 L144.50,551.50 L148.00,550.00 L151.10,552.60 L154.20,551.00 L156.80,552.30 L159.00,550.10 L162.00,551.50 L164.70,549.70 L167.30,548.80 L169.90,548.00 L172.60,545.80 L175.20,546.60 L177.80,544.50 L179.50,542.00 L182.00,539.70 L184.20,536.00 L186.50,533.00 L188.70,528.90 L191.00,526.60 L194.40,524.70 L197.40,525.90 L200.00,523.60 L203.00,521.40 L205.60,519.50 L206.70,515.00 L207.90,511.80 L210.50,507.40 L212.40,497.70 L214.30,488.80 L216.30,479.80 L218.20,474.70 L220.70,469.50 L223.30,465.70 L225.90,470.20 L228.40,473.40 L230.40,481.70 L232.30,491.30 L234.20,500.30 L236.10,509.30 L238.10,518.30 L240.00,526.00 L242.50,535.00 L243.80,539.40 L244.80,544.20 L246.60,546.00 L248.80,545.30 L250.90,548.60 L253.60,549.00 L256.20,551.20 L258.80,550.60 L261.90,551.20 L266.30,553.40 L269.30,550.90 L272.40,551.80 L274.60,551.50 L277.20,553.40 L279.90,551.80 L282.50,552.30 L284.70,553.00 L287.30,551.20 L289.90,550.80 L292.60,551.50 L294.70,550.10 L297.40,552.10 L300.20,553.20 L303.10,553.60 L306.10,553.20 L309.30,553.20 L311.20,552.50 L313.00,551.80 L315.50,552.90 L318.50,554.10 L321.00,555.80 L323.60,555.10 L326.00,555.10" fill="none" stroke="#0000ff" stroke-width="3.6" stroke-linejoin="round" stroke-linecap="butt"/>
<text transform="translate(18.7,580.2) rotate(-90)" font-size="14.4">Intensity / CCD cts s<tspan font-size="8.6" dy="-4.3">-1</tspan></text>
<text x="142" y="639" font-size="14.15">Wavenumber / cm<tspan font-size="8.2" dy="-5.2">-1</tspan></text>
<text x="339.8" y="435.5" font-size="22" text-anchor="start" font-weight="bold" >f</text>
<line x1="408.6" y1="437.90000000000003" x2="408.6" y2="598.6" stroke="#000" stroke-width="2"/>
<line x1="400.6" y1="595.1" x2="408.6" y2="595.1" stroke="#000" stroke-width="2"/>
<text x="392.6" y="602.1" font-size="16.7" text-anchor="end" font-weight="normal" >0</text>
<line x1="400.6" y1="556.0500000000001" x2="408.6" y2="556.0500000000001" stroke="#000" stroke-width="2"/>
<text x="395.8" y="563.05" font-size="16.7" text-anchor="end" font-weight="normal" >10</text>
<line x1="400.6" y1="517.0" x2="408.6" y2="517.0" stroke="#000" stroke-width="2"/>
<text x="395.8" y="524.0" font-size="16.7" text-anchor="end" font-weight="normal" >20</text>
<line x1="400.6" y1="477.95000000000005" x2="408.6" y2="477.95000000000005" stroke="#000" stroke-width="2"/>
<text x="395.8" y="484.95" font-size="16.7" text-anchor="end" font-weight="normal" >30</text>
<line x1="400.6" y1="438.90000000000003" x2="408.6" y2="438.90000000000003" stroke="#000" stroke-width="2"/>
<text x="395.8" y="445.9" font-size="16.7" text-anchor="end" font-weight="normal" >40</text>
<line x1="407.6" y1="597.6" x2="672.2" y2="597.6" stroke="#000" stroke-width="2"/>
<line x1="411.0" y1="597.6" x2="411.0" y2="605.8000000000001" stroke="#000" stroke-width="2"/>
<text x="410.7" y="623" font-size="16" text-anchor="middle" font-weight="normal" >750</text>
<line x1="476.05" y1="597.6" x2="476.05" y2="605.8000000000001" stroke="#000" stroke-width="2"/>
<text x="475.75" y="623" font-size="16" text-anchor="middle" font-weight="normal" >800</text>
<line x1="541.1" y1="597.6" x2="541.1" y2="605.8000000000001" stroke="#000" stroke-width="2"/>
<text x="540.8" y="623" font-size="16" text-anchor="middle" font-weight="normal" >850</text>
<line x1="606.15" y1="597.6" x2="606.15" y2="605.8000000000001" stroke="#000" stroke-width="2"/>
<text x="605.85" y="623" font-size="16" text-anchor="middle" font-weight="normal" >900</text>
<line x1="671.2" y1="597.6" x2="671.2" y2="605.8000000000001" stroke="#000" stroke-width="2"/>
<text x="670.9" y="623" font-size="16" text-anchor="middle" font-weight="normal" >950</text>
<path d="M411.20,456.70 L412.40,460.40 L413.60,467.80 L415.10,476.80 L416.60,485.00 L418.70,489.40 L420.60,494.60 L422.10,503.50 L423.60,511.00 L425.50,517.70 L428.00,522.90 L431.00,528.10 L433.30,532.50 L435.50,537.70 L438.50,539.50 L440.70,540.00 L441.80,540.80 L443.10,544.00 L445.30,544.70 L447.00,546.20 L448.80,548.20 L451.40,545.80 L454.00,546.50 L456.60,548.40 L459.30,546.80 L461.90,546.80 L464.50,550.10 L467.20,548.40 L470.20,548.80 L473.30,550.00 L475.90,549.70 L478.50,550.60 L481.20,550.30 L483.80,550.00 L485.50,548.80 L488.20,549.70 L490.80,549.40 L493.40,551.50 L496.10,549.30 L498.00,549.30 L501.10,548.20 L503.70,549.30 L506.30,548.90 L509.00,550.00 L511.10,550.80 L513.80,548.00 L516.40,549.30 L519.00,549.30 L521.60,548.70 L524.70,548.20 L526.90,544.50 L529.50,541.90 L532.20,539.30 L534.30,535.30 L537.00,534.00 L539.20,532.30 L541.40,531.40 L543.50,532.30 L545.70,534.50 L548.40,537.50 L550.60,542.30 L553.20,544.50 L555.80,546.30 L558.90,549.90 L562.00,550.90 L565.10,551.20 L568.60,550.30 L571.60,551.80 L574.30,552.30 L576.90,553.20 L579.50,552.30 L582.20,552.10 L584.30,550.90 L587.40,553.20 L590.00,553.40 L592.70,552.10 L595.30,552.70 L597.90,551.80 L600.50,553.00 L602.70,552.10 L604.90,553.40 L607.60,554.40 L610.60,552.50 L613.20,551.80 L615.80,552.10 L618.60,552.80 L621.00,554.40 L623.90,551.90 L627.20,552.80 L631.00,552.80 L633.80,554.90 L637.10,552.60 L640.50,553.00 L643.80,550.70 L645.20,551.60 L647.60,554.40 L650.90,554.40 L654.70,554.40 L658.00,555.40 L660.40,553.80 L662.80,555.40 L665.60,553.00 L668.50,553.50 L671.50,554.00" fill="none" stroke="#0000ff" stroke-width="3.6" stroke-linejoin="round" stroke-linecap="butt"/>
<text transform="translate(364.1,580.2) rotate(-90)" font-size="14.4">Intensity / CCD cts s<tspan font-size="8.6" dy="-4.3">-1</tspan></text>
<text x="481" y="639" font-size="14.15">Wavenumber / cm<tspan font-size="8.2" dy="-5.2">-1</tspan></text>
</svg>
</body></html>
